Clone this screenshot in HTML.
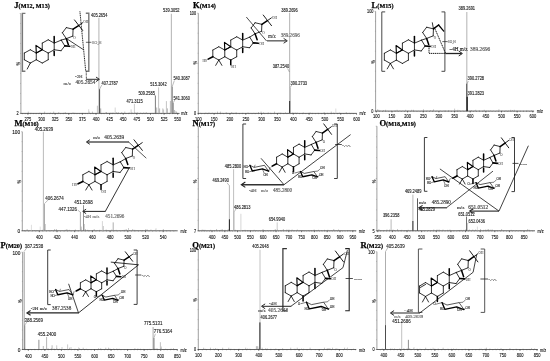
<!DOCTYPE html>
<html lang="en">
<head>
<meta charset="utf-8">
<title>Mass spectra J-R</title>
<style>
html,body{margin:0;padding:0;background:#fff;}
body{width:550px;height:361px;overflow:hidden;}
svg{display:block;}
text.s{font-family:"Liberation Sans", sans-serif;}
text.r{font-family:"Liberation Serif", serif;}
</style>
</head>
<body>
<svg width="550" height="361" viewBox="0 0 550 361">
<rect width="550" height="361" fill="#fff"/>
<g id="panelJ">
<text class="r" x="14.3" y="8" font-weight="bold" fill="#000"><tspan font-size="8.6" stroke="#000" stroke-width="0.25">J</tspan><tspan font-size="6.2" stroke="#000" stroke-width="0.2">(M12, M13)</tspan></text>
<line x1="20.9" y1="13.5" x2="20.9" y2="113.4" stroke="#777" stroke-width="0.7" />
<path d="M20.9 113.4h-1.2M20.9 103.41h-0.7M20.9 93.42h-0.7M20.9 83.43h-0.7M20.9 73.44h-0.7M20.9 63.45h-1.2M20.9 53.46h-0.7M20.9 43.47h-0.7M20.9 33.48h-0.7M20.9 23.49h-0.7M20.9 13.5h-1.2" stroke="#777" stroke-width="0.4" fill="none"/>
<line x1="20.4" y1="113.4" x2="179.6" y2="113.4" stroke="#222" stroke-width="0.7" />
<line x1="27.91" y1="113.4" x2="27.91" y2="114.8" stroke="#222" stroke-width="0.5" />
<text class="s" transform="translate(27.91,121.14) scale(0.75,1)" font-size="5.4" text-anchor="middle" fill="#111" stroke="#111" stroke-width="0.12">275</text>
<line x1="41.53" y1="113.4" x2="41.53" y2="114.8" stroke="#222" stroke-width="0.5" />
<text class="s" transform="translate(41.53,121.14) scale(0.75,1)" font-size="5.4" text-anchor="middle" fill="#111" stroke="#111" stroke-width="0.12">300</text>
<line x1="55.15" y1="113.4" x2="55.15" y2="114.8" stroke="#222" stroke-width="0.5" />
<text class="s" transform="translate(55.15,121.14) scale(0.75,1)" font-size="5.4" text-anchor="middle" fill="#111" stroke="#111" stroke-width="0.12">325</text>
<line x1="68.77" y1="113.4" x2="68.77" y2="114.8" stroke="#222" stroke-width="0.5" />
<text class="s" transform="translate(68.77,121.14) scale(0.75,1)" font-size="5.4" text-anchor="middle" fill="#111" stroke="#111" stroke-width="0.12">350</text>
<line x1="82.38" y1="113.4" x2="82.38" y2="114.8" stroke="#222" stroke-width="0.5" />
<text class="s" transform="translate(82.38,121.14) scale(0.75,1)" font-size="5.4" text-anchor="middle" fill="#111" stroke="#111" stroke-width="0.12">375</text>
<line x1="96" y1="113.4" x2="96" y2="114.8" stroke="#222" stroke-width="0.5" />
<text class="s" transform="translate(96,121.14) scale(0.75,1)" font-size="5.4" text-anchor="middle" fill="#111" stroke="#111" stroke-width="0.12">400</text>
<line x1="109.62" y1="113.4" x2="109.62" y2="114.8" stroke="#222" stroke-width="0.5" />
<text class="s" transform="translate(109.62,121.14) scale(0.75,1)" font-size="5.4" text-anchor="middle" fill="#111" stroke="#111" stroke-width="0.12">425</text>
<line x1="123.23" y1="113.4" x2="123.23" y2="114.8" stroke="#222" stroke-width="0.5" />
<text class="s" transform="translate(123.23,121.14) scale(0.75,1)" font-size="5.4" text-anchor="middle" fill="#111" stroke="#111" stroke-width="0.12">450</text>
<line x1="136.85" y1="113.4" x2="136.85" y2="114.8" stroke="#222" stroke-width="0.5" />
<text class="s" transform="translate(136.85,121.14) scale(0.75,1)" font-size="5.4" text-anchor="middle" fill="#111" stroke="#111" stroke-width="0.12">475</text>
<line x1="150.47" y1="113.4" x2="150.47" y2="114.8" stroke="#222" stroke-width="0.5" />
<text class="s" transform="translate(150.47,121.14) scale(0.75,1)" font-size="5.4" text-anchor="middle" fill="#111" stroke="#111" stroke-width="0.12">500</text>
<line x1="164.09" y1="113.4" x2="164.09" y2="114.8" stroke="#222" stroke-width="0.5" />
<text class="s" transform="translate(164.09,121.14) scale(0.75,1)" font-size="5.4" text-anchor="middle" fill="#111" stroke="#111" stroke-width="0.12">525</text>
<line x1="177.7" y1="113.4" x2="177.7" y2="114.8" stroke="#222" stroke-width="0.5" />
<text class="s" transform="translate(177.7,121.14) scale(0.75,1)" font-size="5.4" text-anchor="middle" fill="#111" stroke="#111" stroke-width="0.12">550</text>
<path d="M22.47 113.4v0.8M25.19 113.4v0.8M27.91 113.4v0.8M30.64 113.4v0.8M33.36 113.4v0.8M36.08 113.4v0.8M38.81 113.4v0.8M41.53 113.4v0.8M44.25 113.4v0.8M46.98 113.4v0.8M49.7 113.4v0.8M52.42 113.4v0.8M55.15 113.4v0.8M57.87 113.4v0.8M60.59 113.4v0.8M63.32 113.4v0.8M66.04 113.4v0.8M68.77 113.4v0.8M71.49 113.4v0.8M74.21 113.4v0.8M76.94 113.4v0.8M79.66 113.4v0.8M82.38 113.4v0.8M85.11 113.4v0.8M87.83 113.4v0.8M90.55 113.4v0.8M93.28 113.4v0.8M96 113.4v0.8M98.72 113.4v0.8M101.45 113.4v0.8M104.17 113.4v0.8M106.89 113.4v0.8M109.62 113.4v0.8M112.34 113.4v0.8M115.06 113.4v0.8M117.79 113.4v0.8M120.51 113.4v0.8M123.24 113.4v0.8M125.96 113.4v0.8M128.68 113.4v0.8M131.41 113.4v0.8M134.13 113.4v0.8M136.85 113.4v0.8M139.58 113.4v0.8M142.3 113.4v0.8M145.02 113.4v0.8M147.75 113.4v0.8M150.47 113.4v0.8M153.19 113.4v0.8M155.92 113.4v0.8M158.64 113.4v0.8M161.36 113.4v0.8M164.09 113.4v0.8M166.81 113.4v0.8M169.53 113.4v0.8M172.26 113.4v0.8M174.98 113.4v0.8M177.71 113.4v0.8" stroke="#333" stroke-width="0.35" fill="none"/>
<path d="M22.9 113.4v-0.3M26.03 113.4v-0.4M28.27 113.4v-1.8M31.05 113.4v-0.6M34.11 113.4v-0.3M36.55 113.4v-0.4M39.9 113.4v-0.8M43 113.4v-0.5M44.61 113.4v-1.8M48.02 113.4v-0.5M50.41 113.4v-0.8M53.67 113.4v-1.8M56.52 113.4v-0.4M58.72 113.4v-1.3M62.31 113.4v-0.4M63.71 113.4v-0.6M65.29 113.4v-1.3M67.94 113.4v-0.3M70.28 113.4v-0.4M73.01 113.4v-1M74.95 113.4v-0.6M77.9 113.4v-0.3M80.7 113.4v-0.3M82.85 113.4v-0.5M85.57 113.4v-0.4M89.16 113.4v-1.8M92.43 113.4v-1.8M95.46 113.4v-0.3M98.51 113.4v-1.3M99.81 113.4v-0.8M101.73 113.4v-0.4M103.27 113.4v-0.5M106.55 113.4v-1.3M109.06 113.4v-0.6M110.9 113.4v-0.8M113.03 113.4v-1M116.35 113.4v-1.3M118.28 113.4v-1.3M121.72 113.4v-1.3M124.77 113.4v-1.8M126.97 113.4v-0.4M129.16 113.4v-1M131.93 113.4v-1.3M134.9 113.4v-1.3M138.14 113.4v-0.5M140.66 113.4v-0.8M143.7 113.4v-1M146.25 113.4v-1.3M149.48 113.4v-0.4M151.98 113.4v-0.6M154.14 113.4v-0.6M157.03 113.4v-0.6M158.56 113.4v-0.4M161.12 113.4v-0.5M162.94 113.4v-0.3M165.17 113.4v-0.4M167.3 113.4v-0.5M169.18 113.4v-0.6M170.99 113.4v-0.8M173.32 113.4v-0.3M176.63 113.4v-1.3" stroke="#555" stroke-width="0.35" fill="none"/>
<text class="s" transform="translate(181.2,115.43) scale(0.8,1)" font-size="4.8" text-anchor="start" fill="#111" stroke="#111" stroke-width="0.12">m/z</text>
<text class="s" transform="translate(18.7,115.13) scale(0.8,1)" font-size="4.8" text-anchor="end" fill="#111" stroke="#111" stroke-width="0.12">2</text>
<text class="s" font-size="5" fill="#222" stroke="#222" stroke-width="0.1" text-anchor="middle" transform="translate(19.9,63.7) rotate(-90) scale(0.8,1)">%</text>
<line x1="98.9" y1="17.7" x2="98.9" y2="113.4" stroke="#bdbdbd" stroke-width="1.15" />
<line x1="99.6" y1="89.2" x2="99.6" y2="113.4" stroke="#222" stroke-width="0.8" />
<line x1="97.4" y1="105.7" x2="97.4" y2="113.4" stroke="#999" stroke-width="0.6" />
<line x1="100.7" y1="108.4" x2="100.7" y2="113.4" stroke="#777" stroke-width="0.6" />
<line x1="88.7" y1="109.2" x2="88.7" y2="113.4" stroke="#bbb" stroke-width="0.6" />
<line x1="105.9" y1="112" x2="105.9" y2="113.4" stroke="#999" stroke-width="0.5" />
<line x1="115.2" y1="107.5" x2="115.2" y2="113.4" stroke="#bbb" stroke-width="0.6" />
<line x1="131.1" y1="109.4" x2="131.1" y2="113.4" stroke="#aaa" stroke-width="0.6" />
<line x1="134.4" y1="103.9" x2="134.4" y2="113.4" stroke="#aaa" stroke-width="0.6" />
<line x1="137.2" y1="112" x2="137.2" y2="113.4" stroke="#999" stroke-width="0.5" />
<line x1="155.4" y1="95.6" x2="155.4" y2="113.4" stroke="#444" stroke-width="0.7" />
<line x1="156.7" y1="107.5" x2="156.7" y2="113.4" stroke="#888" stroke-width="0.6" />
<line x1="158.6" y1="87.4" x2="158.6" y2="113.4" stroke="#aaa" stroke-width="0.7" />
<line x1="159.6" y1="108.4" x2="159.6" y2="113.4" stroke="#888" stroke-width="0.6" />
<line x1="162.8" y1="108.4" x2="162.8" y2="113.4" stroke="#999" stroke-width="0.6" />
<line x1="163.6" y1="109.5" x2="163.6" y2="113.4" stroke="#999" stroke-width="0.5" />
<line x1="166.4" y1="101.1" x2="166.4" y2="113.4" stroke="#aaa" stroke-width="0.7" />
<line x1="167.4" y1="108.4" x2="167.4" y2="113.4" stroke="#888" stroke-width="0.6" />
<line x1="170.4" y1="101" x2="170.4" y2="113.4" stroke="#999" stroke-width="0.7" />
<line x1="171.4" y1="13.7" x2="171.4" y2="113.4" stroke="#bdbdbd" stroke-width="1.15" />
<line x1="172.3" y1="86.5" x2="172.3" y2="113.4" stroke="#555" stroke-width="0.7" />
<line x1="173.3" y1="103" x2="173.3" y2="113.4" stroke="#666" stroke-width="0.7" />
<line x1="174.6" y1="110" x2="174.6" y2="113.4" stroke="#888" stroke-width="0.6" />
<line x1="176" y1="111" x2="176" y2="113.4" stroke="#888" stroke-width="0.5" />
<text class="s" transform="translate(91,17.12) scale(0.88,1)" font-size="4.5" text-anchor="start" fill="#222" stroke="#222" stroke-width="0.12">405.2654</text>
<text class="s" transform="translate(163.1,12.22) scale(0.88,1)" font-size="4.5" text-anchor="start" fill="#222" stroke="#222" stroke-width="0.12">539.3052</text>
<text class="s" transform="translate(101.5,84.52) scale(0.88,1)" font-size="4.5" text-anchor="start" fill="#222" stroke="#222" stroke-width="0.12">407.2787</text>
<line x1="99.7" y1="89" x2="101.8" y2="85" stroke="#555" stroke-width="0.4" />
<text class="s" transform="translate(126.6,102.72) scale(0.88,1)" font-size="4.5" text-anchor="start" fill="#222" stroke="#222" stroke-width="0.12">471.3115</text>
<text class="s" transform="translate(138.4,95.12) scale(0.88,1)" font-size="4.5" text-anchor="start" fill="#222" stroke="#222" stroke-width="0.12">509.2585</text>
<line x1="153.2" y1="94.2" x2="155.4" y2="95.6" stroke="#555" stroke-width="0.4" />
<text class="s" transform="translate(150.3,86.32) scale(0.88,1)" font-size="4.5" text-anchor="start" fill="#222" stroke="#222" stroke-width="0.12">515.3042</text>
<text class="s" transform="translate(173.4,79.92) scale(0.88,1)" font-size="4.5" text-anchor="start" fill="#222" stroke="#222" stroke-width="0.12">540.3087</text>
<line x1="172.3" y1="86.3" x2="174.4" y2="80.5" stroke="#555" stroke-width="0.4" />
<text class="s" transform="translate(173.4,99.62) scale(0.88,1)" font-size="4.5" text-anchor="start" fill="#222" stroke="#222" stroke-width="0.12">541.3060</text>
<line x1="173.3" y1="102.8" x2="174.8" y2="100" stroke="#555" stroke-width="0.4" />
<polyline points="25.4,13.4 22.4,13.4 22.4,71.3 25.4,71.3" stroke="#777" stroke-width="1.4" fill="none" />
<polyline points="85.8,13.2 88.8,13.2 88.8,71.3 85.8,71.3" stroke="#777" stroke-width="1.4" fill="none" />
<line x1="85.9" y1="42.3" x2="91.4" y2="42.3" stroke="#222" stroke-width="0.7" />
<text class="r" x="91.8" y="43.89" font-size="4.2" text-anchor="start" fill="#888" stroke="#888" stroke-width="0.14">SO<tspan dy="1" font-size="2.8">3</tspan><tspan dy="-1">H</tspan></text>
<line x1="30.3" y1="49.75" x2="36.28" y2="53.07" stroke="#000" stroke-width="0.8" stroke-linecap="round"/>
<line x1="36.28" y1="53.07" x2="36.28" y2="59.73" stroke="#000" stroke-width="0.8" stroke-linecap="round"/>
<line x1="36.28" y1="59.73" x2="30.3" y2="63.05" stroke="#000" stroke-width="0.8" stroke-linecap="round"/>
<line x1="30.3" y1="63.05" x2="24.32" y2="59.73" stroke="#000" stroke-width="0.8" stroke-linecap="round"/>
<line x1="24.32" y1="59.73" x2="24.32" y2="53.07" stroke="#000" stroke-width="0.8" stroke-linecap="round"/>
<line x1="24.32" y1="53.07" x2="30.3" y2="49.75" stroke="#000" stroke-width="0.8" stroke-linecap="round"/>
<line x1="36.28" y1="53.07" x2="42.25" y2="49.75" stroke="#000" stroke-width="0.8" stroke-linecap="round"/>
<line x1="42.25" y1="49.75" x2="48.23" y2="53.07" stroke="#000" stroke-width="0.8" stroke-linecap="round"/>
<line x1="48.23" y1="53.07" x2="48.23" y2="59.73" stroke="#000" stroke-width="0.8" stroke-linecap="round"/>
<line x1="48.23" y1="59.73" x2="42.25" y2="63.05" stroke="#000" stroke-width="0.8" stroke-linecap="round"/>
<line x1="42.25" y1="63.05" x2="36.28" y2="59.73" stroke="#000" stroke-width="0.8" stroke-linecap="round"/>
<line x1="42.25" y1="49.75" x2="42.25" y2="43.1" stroke="#000" stroke-width="0.8" stroke-linecap="round"/>
<line x1="42.25" y1="43.1" x2="48.23" y2="39.77" stroke="#000" stroke-width="0.8" stroke-linecap="round"/>
<line x1="48.23" y1="39.77" x2="54.2" y2="43.1" stroke="#000" stroke-width="0.8" stroke-linecap="round"/>
<line x1="54.2" y1="43.1" x2="54.2" y2="49.75" stroke="#000" stroke-width="0.8" stroke-linecap="round"/>
<line x1="54.2" y1="49.75" x2="48.23" y2="53.07" stroke="#000" stroke-width="0.8" stroke-linecap="round"/>
<line x1="54.2" y1="43.1" x2="61.21" y2="40.11" stroke="#000" stroke-width="0.8" stroke-linecap="round"/>
<line x1="61.21" y1="40.11" x2="64.8" y2="45.89" stroke="#000" stroke-width="0.8" stroke-linecap="round"/>
<line x1="64.8" y1="45.89" x2="61.01" y2="50.75" stroke="#000" stroke-width="0.8" stroke-linecap="round"/>
<line x1="61.01" y1="50.75" x2="54.2" y2="49.75" stroke="#000" stroke-width="0.8" stroke-linecap="round"/>
<polygon points="36.28,53.07 35.96,45.36 42.25,49.75" fill="none" stroke="#000" stroke-width="1.14" stroke-linejoin="round"/>
<line x1="54.2" y1="42.3" x2="54.2" y2="36.45" stroke="#000" stroke-width="1.52" stroke-linecap="round"/>
<line x1="54.2" y1="51.21" x2="54.2" y2="55.6" stroke="#000" stroke-width="1.52" stroke-linecap="round"/>
<line x1="64.8" y1="45.89" x2="69.77" y2="46.29" stroke="#000" stroke-width="1.6720000000000002" stroke-linecap="round"/>
<text class="r" x="70.67" y="47.89" font-size="3.3875" text-anchor="start" fill="#222" >OH</text>
<line x1="30.3" y1="63.05" x2="27.2" y2="69.03" stroke="#000" stroke-width="0.8" stroke-linecap="round"/>
<line x1="61.21" y1="40.11" x2="66.32" y2="38.64" stroke="#000" stroke-width="0.8" stroke-linecap="round"/>
<line x1="66.32" y1="38.64" x2="62.39" y2="32.79" stroke="#000" stroke-width="0.8" stroke-linecap="round"/>
<line x1="62.39" y1="32.79" x2="66.32" y2="27.61" stroke="#000" stroke-width="0.8" stroke-linecap="round"/>
<line x1="66.32" y1="27.61" x2="73.08" y2="29.2" stroke="#000" stroke-width="0.8" stroke-linecap="round"/>
<line x1="73.08" y1="29.2" x2="72.8" y2="36.12" stroke="#000" stroke-width="0.8" stroke-linecap="round"/>
<line x1="72.8" y1="36.12" x2="66.32" y2="38.64" stroke="#000" stroke-width="0.8" stroke-linecap="round"/>
<line x1="66.32" y1="38.64" x2="68.39" y2="44.63" stroke="#000" stroke-width="1.52" stroke-linecap="round"/>
<text class="r" x="73.36" y="38.91" font-size="3.3875" text-anchor="start" fill="#222" >O</text>
<line x1="73.08" y1="29.2" x2="78.6" y2="25.54" stroke="#000" stroke-width="1.52" stroke-linecap="round"/>
<line x1="74.46" y1="19.89" x2="82.74" y2="30.53" stroke="#000" stroke-width="0.8800000000000001" stroke-linecap="round"/>
<line x1="78.6" y1="25.54" x2="82.6" y2="22.75" stroke="#000" stroke-width="0.8800000000000001" stroke-linecap="round"/>
<text class="r" x="83.29" y="23.42" font-size="3.3875" text-anchor="start" fill="#222" >OH</text>
<line x1="79.9" y1="11.3" x2="85.7" y2="71" stroke="#000" stroke-width="0.85" stroke-dasharray="1.2 0.6"/>
<line x1="86.2" y1="71.4" x2="86.4" y2="79.3" stroke="#111" stroke-width="0.8" stroke-dasharray="0.9 0.5"/>
<line x1="86.2" y1="79.3" x2="98.8" y2="79.3" stroke="#222" stroke-width="0.95" />
<polyline points="95.98,77.05 99.4,79.3 95.98,81.55" stroke="#222" stroke-width="0.935" fill="none" stroke-linejoin="miter"/>
<line x1="65.9" y1="38.2" x2="83.2" y2="49.5" stroke="#000" stroke-width="0.75" />
<text class="r" x="75" y="78.23" font-size="4.95" text-anchor="start" fill="#555" stroke="#555" stroke-width="0.14">-2H</text>
<text class="r" x="63.6" y="84.52" font-size="4.9" text-anchor="start" fill="#555" stroke="#555" stroke-width="0.14">m/z</text>
<text class="r" x="75.4" y="84.37" font-size="5.35" text-anchor="start" fill="#444" stroke="#444" stroke-width="0.14">405.2654</text>
</g>
<g id="panelK">
<text class="r" x="193" y="8" font-weight="bold" fill="#000"><tspan font-size="8.6" stroke="#000" stroke-width="0.25">K</tspan><tspan font-size="6.2" stroke="#000" stroke-width="0.2">(M14)</tspan></text>
<line x1="198.3" y1="13.2" x2="198.3" y2="113.4" stroke="#777" stroke-width="0.7" />
<path d="M198.3 113.4h-1.2M198.3 103.38h-0.7M198.3 93.36h-0.7M198.3 83.34h-0.7M198.3 73.32h-0.7M198.3 63.3h-1.2M198.3 53.28h-0.7M198.3 43.26h-0.7M198.3 33.24h-0.7M198.3 23.22h-0.7M198.3 13.2h-1.2" stroke="#777" stroke-width="0.4" fill="none"/>
<line x1="197.8" y1="113.4" x2="356.8" y2="113.4" stroke="#222" stroke-width="0.7" />
<line x1="198.3" y1="113.4" x2="198.3" y2="114.8" stroke="#222" stroke-width="0.5" />
<text class="s" transform="translate(198.3,121.14) scale(0.75,1)" font-size="5.4" text-anchor="middle" fill="#111" stroke="#111" stroke-width="0.12">100</text>
<line x1="214.12" y1="113.4" x2="214.12" y2="114.8" stroke="#222" stroke-width="0.5" />
<text class="s" transform="translate(214.12,121.14) scale(0.75,1)" font-size="5.4" text-anchor="middle" fill="#111" stroke="#111" stroke-width="0.12">150</text>
<line x1="229.95" y1="113.4" x2="229.95" y2="114.8" stroke="#222" stroke-width="0.5" />
<text class="s" transform="translate(229.95,121.14) scale(0.75,1)" font-size="5.4" text-anchor="middle" fill="#111" stroke="#111" stroke-width="0.12">200</text>
<line x1="245.78" y1="113.4" x2="245.78" y2="114.8" stroke="#222" stroke-width="0.5" />
<text class="s" transform="translate(245.78,121.14) scale(0.75,1)" font-size="5.4" text-anchor="middle" fill="#111" stroke="#111" stroke-width="0.12">250</text>
<line x1="261.6" y1="113.4" x2="261.6" y2="114.8" stroke="#222" stroke-width="0.5" />
<text class="s" transform="translate(261.6,121.14) scale(0.75,1)" font-size="5.4" text-anchor="middle" fill="#111" stroke="#111" stroke-width="0.12">300</text>
<line x1="277.43" y1="113.4" x2="277.43" y2="114.8" stroke="#222" stroke-width="0.5" />
<text class="s" transform="translate(277.43,121.14) scale(0.75,1)" font-size="5.4" text-anchor="middle" fill="#111" stroke="#111" stroke-width="0.12">350</text>
<line x1="293.25" y1="113.4" x2="293.25" y2="114.8" stroke="#222" stroke-width="0.5" />
<text class="s" transform="translate(293.25,121.14) scale(0.75,1)" font-size="5.4" text-anchor="middle" fill="#111" stroke="#111" stroke-width="0.12">400</text>
<line x1="309.08" y1="113.4" x2="309.08" y2="114.8" stroke="#222" stroke-width="0.5" />
<text class="s" transform="translate(309.08,121.14) scale(0.75,1)" font-size="5.4" text-anchor="middle" fill="#111" stroke="#111" stroke-width="0.12">450</text>
<line x1="324.9" y1="113.4" x2="324.9" y2="114.8" stroke="#222" stroke-width="0.5" />
<text class="s" transform="translate(324.9,121.14) scale(0.75,1)" font-size="5.4" text-anchor="middle" fill="#111" stroke="#111" stroke-width="0.12">500</text>
<line x1="340.73" y1="113.4" x2="340.73" y2="114.8" stroke="#222" stroke-width="0.5" />
<text class="s" transform="translate(340.73,121.14) scale(0.75,1)" font-size="5.4" text-anchor="middle" fill="#111" stroke="#111" stroke-width="0.12">550</text>
<line x1="356.55" y1="113.4" x2="356.55" y2="114.8" stroke="#222" stroke-width="0.5" />
<text class="s" transform="translate(356.55,121.14) scale(0.75,1)" font-size="5.4" text-anchor="middle" fill="#111" stroke="#111" stroke-width="0.12">600</text>
<path d="M201.47 113.4v0.8M204.63 113.4v0.8M207.79 113.4v0.8M210.96 113.4v0.8M214.12 113.4v0.8M217.29 113.4v0.8M220.45 113.4v0.8M223.62 113.4v0.8M226.78 113.4v0.8M229.95 113.4v0.8M233.11 113.4v0.8M236.28 113.4v0.8M239.44 113.4v0.8M242.61 113.4v0.8M245.77 113.4v0.8M248.94 113.4v0.8M252.1 113.4v0.8M255.27 113.4v0.8M258.43 113.4v0.8M261.6 113.4v0.8M264.76 113.4v0.8M267.93 113.4v0.8M271.09 113.4v0.8M274.26 113.4v0.8M277.43 113.4v0.8M280.59 113.4v0.8M283.76 113.4v0.8M286.92 113.4v0.8M290.09 113.4v0.8M293.25 113.4v0.8M296.42 113.4v0.8M299.58 113.4v0.8M302.75 113.4v0.8M305.91 113.4v0.8M309.08 113.4v0.8M312.24 113.4v0.8M315.41 113.4v0.8M318.57 113.4v0.8M321.74 113.4v0.8M324.9 113.4v0.8M328.07 113.4v0.8M331.23 113.4v0.8M334.4 113.4v0.8M337.56 113.4v0.8M340.73 113.4v0.8M343.89 113.4v0.8M347.06 113.4v0.8M350.22 113.4v0.8M353.39 113.4v0.8" stroke="#333" stroke-width="0.35" fill="none"/>
<path d="M200.3 113.4v-0.6M202.52 113.4v-0.3M205.82 113.4v-0.8M208.97 113.4v-1M212.34 113.4v-0.8M215.42 113.4v-0.6M217.51 113.4v-1.8M219.29 113.4v-0.6M220.57 113.4v-1.8M222.64 113.4v-0.6M226.21 113.4v-1.3M227.95 113.4v-0.5M229.64 113.4v-0.3M231.63 113.4v-1.3M233.06 113.4v-0.6M234.66 113.4v-0.5M236.12 113.4v-1.3M239.11 113.4v-0.3M241.44 113.4v-0.3M242.84 113.4v-0.6M245.81 113.4v-0.3M248.02 113.4v-1M250.83 113.4v-0.5M253.76 113.4v-0.6M255.25 113.4v-0.4M256.82 113.4v-0.5M258.52 113.4v-1.3M261.09 113.4v-1.8M263.52 113.4v-1M266.78 113.4v-0.4M268.3 113.4v-1M270.55 113.4v-0.6M272.71 113.4v-0.4M274.54 113.4v-1.8M277.16 113.4v-0.4M278.93 113.4v-0.8M280.82 113.4v-0.8M282.97 113.4v-0.4M285.49 113.4v-1M288.13 113.4v-0.5M291.26 113.4v-0.3M292.81 113.4v-1M295.25 113.4v-0.8M297.28 113.4v-0.8M299.6 113.4v-0.3M301.83 113.4v-0.3M303.27 113.4v-1M305.31 113.4v-0.3M308.36 113.4v-0.5M310.05 113.4v-1M312.63 113.4v-0.5M315.68 113.4v-0.3M318.14 113.4v-0.6M321.44 113.4v-0.4M324.17 113.4v-1.3M327.33 113.4v-0.6M329.83 113.4v-0.3M331.26 113.4v-1.8M333.68 113.4v-0.8M336.67 113.4v-0.5M338.17 113.4v-0.5M339.55 113.4v-0.8M341.05 113.4v-0.4M342.91 113.4v-0.4M346.27 113.4v-1.3M349.28 113.4v-0.6M351.75 113.4v-0.5M354.71 113.4v-0.3" stroke="#555" stroke-width="0.35" fill="none"/>
<text class="s" transform="translate(359.4,115.43) scale(0.8,1)" font-size="4.8" text-anchor="start" fill="#111" stroke="#111" stroke-width="0.12">m/z</text>
<text class="s" transform="translate(196.1,15.23) scale(0.8,1)" font-size="4.8" text-anchor="end" fill="#111" stroke="#111" stroke-width="0.12">100</text>
<text class="s" transform="translate(196.1,115.13) scale(0.8,1)" font-size="4.8" text-anchor="end" fill="#111" stroke="#111" stroke-width="0.12">0</text>
<text class="s" font-size="5" fill="#222" stroke="#222" stroke-width="0.1" text-anchor="middle" transform="translate(197.3,62.7) rotate(-90) scale(0.8,1)">%</text>
<line x1="289.6" y1="12.8" x2="289.6" y2="113.4" stroke="#bdbdbd" stroke-width="1.15" />
<line x1="289.7" y1="101" x2="289.7" y2="113.4" stroke="#111" stroke-width="0.9" />
<line x1="290.4" y1="87.4" x2="290.4" y2="113.4" stroke="#888" stroke-width="0.5" />
<line x1="335.8" y1="108.5" x2="335.8" y2="113.4" stroke="#bbb" stroke-width="0.5" />
<text class="s" transform="translate(281.3,12.22) scale(0.88,1)" font-size="4.5" text-anchor="start" fill="#222" stroke="#222" stroke-width="0.12">389.2696</text>
<text class="s" transform="translate(272.7,68.02) scale(0.88,1)" font-size="4.5" text-anchor="start" fill="#222" stroke="#222" stroke-width="0.12">387.2540</text>
<line x1="287.6" y1="68.5" x2="289.4" y2="72" stroke="#555" stroke-width="0.4" />
<text class="s" transform="translate(290.6,84.52) scale(0.88,1)" font-size="4.5" text-anchor="start" fill="#222" stroke="#222" stroke-width="0.12">390.2733</text>
<line x1="290.3" y1="87.2" x2="292" y2="84.8" stroke="#555" stroke-width="0.4" />
<line x1="218.8" y1="46.75" x2="224.78" y2="50.07" stroke="#000" stroke-width="0.8" stroke-linecap="round"/>
<line x1="224.78" y1="50.07" x2="224.78" y2="56.73" stroke="#000" stroke-width="0.8" stroke-linecap="round"/>
<line x1="224.78" y1="56.73" x2="218.8" y2="60.05" stroke="#000" stroke-width="0.8" stroke-linecap="round"/>
<line x1="218.8" y1="60.05" x2="212.82" y2="56.73" stroke="#000" stroke-width="0.8" stroke-linecap="round"/>
<line x1="212.82" y1="56.73" x2="212.82" y2="50.07" stroke="#000" stroke-width="0.8" stroke-linecap="round"/>
<line x1="212.82" y1="50.07" x2="218.8" y2="46.75" stroke="#000" stroke-width="0.8" stroke-linecap="round"/>
<line x1="224.78" y1="50.07" x2="230.75" y2="46.75" stroke="#000" stroke-width="0.8" stroke-linecap="round"/>
<line x1="230.75" y1="46.75" x2="236.73" y2="50.07" stroke="#000" stroke-width="0.8" stroke-linecap="round"/>
<line x1="236.73" y1="50.07" x2="236.73" y2="56.73" stroke="#000" stroke-width="0.8" stroke-linecap="round"/>
<line x1="236.73" y1="56.73" x2="230.75" y2="60.05" stroke="#000" stroke-width="0.8" stroke-linecap="round"/>
<line x1="230.75" y1="60.05" x2="224.78" y2="56.73" stroke="#000" stroke-width="0.8" stroke-linecap="round"/>
<line x1="230.75" y1="46.75" x2="230.75" y2="40.1" stroke="#000" stroke-width="0.8" stroke-linecap="round"/>
<line x1="230.75" y1="40.1" x2="236.73" y2="36.77" stroke="#000" stroke-width="0.8" stroke-linecap="round"/>
<line x1="236.73" y1="36.77" x2="242.7" y2="40.1" stroke="#000" stroke-width="0.8" stroke-linecap="round"/>
<line x1="242.7" y1="40.1" x2="242.7" y2="46.75" stroke="#000" stroke-width="0.8" stroke-linecap="round"/>
<line x1="242.7" y1="46.75" x2="236.73" y2="50.07" stroke="#000" stroke-width="0.8" stroke-linecap="round"/>
<line x1="242.7" y1="40.1" x2="249.71" y2="37.11" stroke="#000" stroke-width="0.8" stroke-linecap="round"/>
<line x1="249.71" y1="37.11" x2="253.3" y2="42.89" stroke="#000" stroke-width="0.8" stroke-linecap="round"/>
<line x1="253.3" y1="42.89" x2="249.51" y2="47.75" stroke="#000" stroke-width="0.8" stroke-linecap="round"/>
<line x1="249.51" y1="47.75" x2="242.7" y2="46.75" stroke="#000" stroke-width="0.8" stroke-linecap="round"/>
<polygon points="224.78,50.07 224.46,42.36 230.75,46.75" fill="none" stroke="#000" stroke-width="1.14" stroke-linejoin="round"/>
<line x1="242.7" y1="39.3" x2="242.7" y2="33.45" stroke="#000" stroke-width="1.52" stroke-linecap="round"/>
<line x1="242.7" y1="48.21" x2="242.7" y2="52.6" stroke="#000" stroke-width="1.52" stroke-linecap="round"/>
<line x1="253.3" y1="42.89" x2="258.27" y2="43.29" stroke="#000" stroke-width="1.6720000000000002" stroke-linecap="round"/>
<text class="r" x="259.17" y="44.89" font-size="3.3875" text-anchor="start" fill="#222" >OH</text>
<line x1="218.8" y1="60.05" x2="215.7" y2="65.37" stroke="#000" stroke-width="0.8" stroke-linecap="round"/>
<line x1="218.8" y1="60.05" x2="221.91" y2="65.37" stroke="#000" stroke-width="0.8" stroke-linecap="round"/>
<line x1="212.82" y1="56.73" x2="208.13" y2="59.12" stroke="#000" stroke-width="1.6720000000000002" stroke-linecap="round"/>
<text class="r" x="207.3" y="61.71" font-size="3.3875" text-anchor="end" fill="#222" >HO</text>
<line x1="230.75" y1="60.05" x2="230.75" y2="64.84" stroke="#000" stroke-width="1.52" stroke-linecap="round"/>
<text class="r" x="230.75" y="68.36" font-size="3.3875" text-anchor="start" fill="#222" >OH</text>
<line x1="249.71" y1="37.11" x2="255.09" y2="33.78" stroke="#000" stroke-width="0.8" stroke-linecap="round"/>
<line x1="255.09" y1="33.78" x2="251.16" y2="27.93" stroke="#000" stroke-width="0.8" stroke-linecap="round"/>
<line x1="251.16" y1="27.93" x2="255.09" y2="22.74" stroke="#000" stroke-width="0.8" stroke-linecap="round"/>
<line x1="255.09" y1="22.74" x2="261.86" y2="24.34" stroke="#000" stroke-width="0.8" stroke-linecap="round"/>
<line x1="261.86" y1="24.34" x2="261.58" y2="31.26" stroke="#000" stroke-width="0.8" stroke-linecap="round"/>
<line x1="261.58" y1="31.26" x2="255.09" y2="33.78" stroke="#000" stroke-width="0.8" stroke-linecap="round"/>
<line x1="255.09" y1="33.78" x2="257.16" y2="39.77" stroke="#000" stroke-width="1.52" stroke-linecap="round"/>
<text class="r" x="262.13" y="34.05" font-size="3.3875" text-anchor="start" fill="#222" >O</text>
<line x1="261.86" y1="24.34" x2="267.38" y2="20.68" stroke="#000" stroke-width="1.52" stroke-linecap="round"/>
<line x1="263.24" y1="15.03" x2="271.52" y2="25.67" stroke="#000" stroke-width="0.8800000000000001" stroke-linecap="round"/>
<line x1="267.38" y1="20.68" x2="271.38" y2="17.89" stroke="#000" stroke-width="0.8800000000000001" stroke-linecap="round"/>
<text class="r" x="272.07" y="18.55" font-size="3.3875" text-anchor="start" fill="#222" >OH</text>
<line x1="246.3" y1="17" x2="266.6" y2="41" stroke="#111" stroke-width="0.75" />
<line x1="267" y1="40.8" x2="286.6" y2="40.8" stroke="#6a6a6a" stroke-width="1.5" />
<polyline points="283.64,38.38 287.3,40.8 283.64,43.22" stroke="#333" stroke-width="0.9900000000000001" fill="none" stroke-linejoin="miter"/>
<text class="r" x="268" y="37.68" font-size="5.1" text-anchor="start" fill="#3a3a3a" stroke="#3a3a3a" stroke-width="0.14">m/z</text>
<text class="r" x="280.7" y="37.48" font-size="5.1" text-anchor="start" fill="#666" stroke="#666" stroke-width="0.14">389.2696</text>
</g>
<g id="panelL">
<text class="r" x="371.6" y="8" font-weight="bold" fill="#000"><tspan font-size="8.6" stroke="#000" stroke-width="0.25">L</tspan><tspan font-size="6.2" stroke="#000" stroke-width="0.2">(M15)</tspan></text>
<line x1="375.6" y1="11.3" x2="375.6" y2="111.1" stroke="#777" stroke-width="0.7" />
<path d="M375.6 111.1h-1.2M375.6 101.12h-0.7M375.6 91.14h-0.7M375.6 81.16h-0.7M375.6 71.18h-0.7M375.6 61.2h-1.2M375.6 51.22h-0.7M375.6 41.24h-0.7M375.6 31.26h-0.7M375.6 21.28h-0.7M375.6 11.3h-1.2" stroke="#777" stroke-width="0.4" fill="none"/>
<line x1="375.1" y1="111.1" x2="534.1" y2="111.1" stroke="#222" stroke-width="0.7" />
<line x1="376.3" y1="111.1" x2="376.3" y2="112.5" stroke="#222" stroke-width="0.5" />
<text class="s" transform="translate(376.3,118.24) scale(0.75,1)" font-size="5.4" text-anchor="middle" fill="#111" stroke="#111" stroke-width="0.12">100</text>
<line x1="391.95" y1="111.1" x2="391.95" y2="112.5" stroke="#222" stroke-width="0.5" />
<text class="s" transform="translate(391.95,118.24) scale(0.75,1)" font-size="5.4" text-anchor="middle" fill="#111" stroke="#111" stroke-width="0.12">150</text>
<line x1="407.6" y1="111.1" x2="407.6" y2="112.5" stroke="#222" stroke-width="0.5" />
<text class="s" transform="translate(407.6,118.24) scale(0.75,1)" font-size="5.4" text-anchor="middle" fill="#111" stroke="#111" stroke-width="0.12">200</text>
<line x1="423.25" y1="111.1" x2="423.25" y2="112.5" stroke="#222" stroke-width="0.5" />
<text class="s" transform="translate(423.25,118.24) scale(0.75,1)" font-size="5.4" text-anchor="middle" fill="#111" stroke="#111" stroke-width="0.12">250</text>
<line x1="438.9" y1="111.1" x2="438.9" y2="112.5" stroke="#222" stroke-width="0.5" />
<text class="s" transform="translate(438.9,118.24) scale(0.75,1)" font-size="5.4" text-anchor="middle" fill="#111" stroke="#111" stroke-width="0.12">300</text>
<line x1="454.55" y1="111.1" x2="454.55" y2="112.5" stroke="#222" stroke-width="0.5" />
<text class="s" transform="translate(454.55,118.24) scale(0.75,1)" font-size="5.4" text-anchor="middle" fill="#111" stroke="#111" stroke-width="0.12">350</text>
<line x1="470.2" y1="111.1" x2="470.2" y2="112.5" stroke="#222" stroke-width="0.5" />
<text class="s" transform="translate(470.2,118.24) scale(0.75,1)" font-size="5.4" text-anchor="middle" fill="#111" stroke="#111" stroke-width="0.12">400</text>
<line x1="485.85" y1="111.1" x2="485.85" y2="112.5" stroke="#222" stroke-width="0.5" />
<text class="s" transform="translate(485.85,118.24) scale(0.75,1)" font-size="5.4" text-anchor="middle" fill="#111" stroke="#111" stroke-width="0.12">450</text>
<line x1="501.5" y1="111.1" x2="501.5" y2="112.5" stroke="#222" stroke-width="0.5" />
<text class="s" transform="translate(501.5,118.24) scale(0.75,1)" font-size="5.4" text-anchor="middle" fill="#111" stroke="#111" stroke-width="0.12">500</text>
<line x1="517.15" y1="111.1" x2="517.15" y2="112.5" stroke="#222" stroke-width="0.5" />
<text class="s" transform="translate(517.15,118.24) scale(0.75,1)" font-size="5.4" text-anchor="middle" fill="#111" stroke="#111" stroke-width="0.12">550</text>
<line x1="532.8" y1="111.1" x2="532.8" y2="112.5" stroke="#222" stroke-width="0.5" />
<text class="s" transform="translate(532.8,118.24) scale(0.75,1)" font-size="5.4" text-anchor="middle" fill="#111" stroke="#111" stroke-width="0.12">600</text>
<path d="M376.3 111.1v0.8M379.43 111.1v0.8M382.56 111.1v0.8M385.69 111.1v0.8M388.82 111.1v0.8M391.95 111.1v0.8M395.08 111.1v0.8M398.21 111.1v0.8M401.34 111.1v0.8M404.47 111.1v0.8M407.6 111.1v0.8M410.73 111.1v0.8M413.86 111.1v0.8M416.99 111.1v0.8M420.12 111.1v0.8M423.25 111.1v0.8M426.38 111.1v0.8M429.51 111.1v0.8M432.64 111.1v0.8M435.77 111.1v0.8M438.9 111.1v0.8M442.03 111.1v0.8M445.16 111.1v0.8M448.29 111.1v0.8M451.42 111.1v0.8M454.55 111.1v0.8M457.68 111.1v0.8M460.81 111.1v0.8M463.94 111.1v0.8M467.07 111.1v0.8M470.2 111.1v0.8M473.33 111.1v0.8M476.46 111.1v0.8M479.59 111.1v0.8M482.72 111.1v0.8M485.85 111.1v0.8M488.98 111.1v0.8M492.11 111.1v0.8M495.24 111.1v0.8M498.37 111.1v0.8M501.5 111.1v0.8M504.63 111.1v0.8M507.76 111.1v0.8M510.89 111.1v0.8M514.02 111.1v0.8M517.15 111.1v0.8M520.28 111.1v0.8M523.41 111.1v0.8M526.54 111.1v0.8M529.67 111.1v0.8M532.8 111.1v0.8" stroke="#333" stroke-width="0.35" fill="none"/>
<path d="M377.6 111.1v-1.8M378.89 111.1v-1.3M380.43 111.1v-0.4M383.39 111.1v-1M385.62 111.1v-1.3M387.91 111.1v-0.3M391.49 111.1v-0.4M395.02 111.1v-0.8M397.09 111.1v-1.3M399.8 111.1v-0.6M402.84 111.1v-0.5M405.66 111.1v-1.3M408.08 111.1v-0.6M411.66 111.1v-1.3M413.52 111.1v-1.3M415.99 111.1v-0.3M418.37 111.1v-0.3M421.69 111.1v-0.3M423.48 111.1v-1.8M427.07 111.1v-0.6M430.37 111.1v-1M432.25 111.1v-0.5M433.54 111.1v-1.8M436.97 111.1v-0.6M440.21 111.1v-0.6M443.76 111.1v-0.4M445.24 111.1v-0.8M448.68 111.1v-1M451.4 111.1v-0.3M454.48 111.1v-0.6M456.04 111.1v-0.6M457.86 111.1v-1.3M459.79 111.1v-0.8M462.93 111.1v-0.6M465.8 111.1v-0.6M467.31 111.1v-1.8M470.05 111.1v-0.6M471.41 111.1v-1M473 111.1v-0.3M474.36 111.1v-0.5M475.72 111.1v-1.3M479.32 111.1v-1M482.86 111.1v-0.5M484.29 111.1v-1.3M486.43 111.1v-0.4M488.3 111.1v-0.5M490.58 111.1v-0.6M493.46 111.1v-0.4M496.87 111.1v-0.6M498.91 111.1v-1.8M501.92 111.1v-0.8M505.26 111.1v-0.5M506.54 111.1v-0.4M508.58 111.1v-0.5M510.65 111.1v-1.3M512.5 111.1v-1M514.35 111.1v-1.3M517.06 111.1v-0.5M520.42 111.1v-0.5M523.47 111.1v-0.5M526.77 111.1v-0.8M528.39 111.1v-0.3M531.63 111.1v-0.8" stroke="#555" stroke-width="0.35" fill="none"/>
<text class="s" transform="translate(536.8,113.13) scale(0.8,1)" font-size="4.8" text-anchor="start" fill="#111" stroke="#111" stroke-width="0.12">m/z</text>
<text class="s" transform="translate(373.4,13.33) scale(0.8,1)" font-size="4.8" text-anchor="end" fill="#111" stroke="#111" stroke-width="0.12">100</text>
<text class="s" transform="translate(373.4,112.83) scale(0.8,1)" font-size="4.8" text-anchor="end" fill="#111" stroke="#111" stroke-width="0.12">0</text>
<text class="s" font-size="5" fill="#222" stroke="#222" stroke-width="0.1" text-anchor="middle" transform="translate(374.6,62) rotate(-90) scale(0.8,1)">%</text>
<line x1="466.8" y1="11.9" x2="466.8" y2="111.1" stroke="#bdbdbd" stroke-width="1.15" />
<line x1="466.8" y1="83.8" x2="466.8" y2="111.1" stroke="#222" stroke-width="0.8" />
<line x1="467.2" y1="97" x2="467.2" y2="111.1" stroke="#111" stroke-width="1.1" />
<line x1="454.6" y1="108.6" x2="454.6" y2="111.1" stroke="#999" stroke-width="0.5" />
<text class="s" transform="translate(458.6,10.22) scale(0.88,1)" font-size="4.5" text-anchor="start" fill="#222" stroke="#222" stroke-width="0.12">389.2691</text>
<text class="s" transform="translate(467.6,80.42) scale(0.88,1)" font-size="4.5" text-anchor="start" fill="#222" stroke="#222" stroke-width="0.12">390.2728</text>
<text class="s" transform="translate(467.6,94.52) scale(0.88,1)" font-size="4.5" text-anchor="start" fill="#222" stroke="#222" stroke-width="0.12">391.2823</text>
<line x1="466.9" y1="84" x2="468.4" y2="81" stroke="#555" stroke-width="0.4" />
<line x1="467.2" y1="97" x2="468.4" y2="95" stroke="#555" stroke-width="0.4" />
<polyline points="385.2,11.9 381.8,11.9 381.8,71.3 385.2,71.3" stroke="#333" stroke-width="0.9" fill="none" />
<polyline points="441.5,11.9 444.9,11.9 444.9,71.3 441.5,71.3" stroke="#333" stroke-width="0.9" fill="none" />
<line x1="442.3" y1="41.6" x2="447.7" y2="41.6" stroke="#222" stroke-width="0.7" />
<text class="r" x="447.8" y="42.92" font-size="3.4" text-anchor="start" fill="#777" stroke="#777" stroke-width="0.14">SO<tspan dy="0.9" font-size="2.3">3</tspan><tspan dy="-0.9">H</tspan></text>
<line x1="390.35" y1="49.94" x2="396.37" y2="53.32" stroke="#000" stroke-width="0.8" stroke-linecap="round"/>
<line x1="396.37" y1="53.32" x2="396.37" y2="60.08" stroke="#000" stroke-width="0.8" stroke-linecap="round"/>
<line x1="396.37" y1="60.08" x2="390.35" y2="63.46" stroke="#000" stroke-width="0.8" stroke-linecap="round"/>
<line x1="390.35" y1="63.46" x2="384.33" y2="60.08" stroke="#000" stroke-width="0.8" stroke-linecap="round"/>
<line x1="384.33" y1="60.08" x2="384.33" y2="53.32" stroke="#000" stroke-width="0.8" stroke-linecap="round"/>
<line x1="384.33" y1="53.32" x2="390.35" y2="49.94" stroke="#000" stroke-width="0.8" stroke-linecap="round"/>
<line x1="396.37" y1="53.32" x2="402.39" y2="49.94" stroke="#000" stroke-width="0.8" stroke-linecap="round"/>
<line x1="402.39" y1="49.94" x2="408.41" y2="53.32" stroke="#000" stroke-width="0.8" stroke-linecap="round"/>
<line x1="408.41" y1="53.32" x2="408.41" y2="60.08" stroke="#000" stroke-width="0.8" stroke-linecap="round"/>
<line x1="408.41" y1="60.08" x2="402.39" y2="63.46" stroke="#000" stroke-width="0.8" stroke-linecap="round"/>
<line x1="402.39" y1="63.46" x2="396.37" y2="60.08" stroke="#000" stroke-width="0.8" stroke-linecap="round"/>
<line x1="402.39" y1="49.94" x2="402.39" y2="43.18" stroke="#000" stroke-width="0.8" stroke-linecap="round"/>
<line x1="402.39" y1="43.18" x2="408.41" y2="39.8" stroke="#000" stroke-width="0.8" stroke-linecap="round"/>
<line x1="408.41" y1="39.8" x2="414.43" y2="43.18" stroke="#000" stroke-width="0.8" stroke-linecap="round"/>
<line x1="414.43" y1="43.18" x2="414.43" y2="49.94" stroke="#000" stroke-width="0.8" stroke-linecap="round"/>
<line x1="414.43" y1="49.94" x2="408.41" y2="53.32" stroke="#000" stroke-width="0.8" stroke-linecap="round"/>
<line x1="414.43" y1="43.18" x2="421.49" y2="40.14" stroke="#000" stroke-width="0.8" stroke-linecap="round"/>
<line x1="421.49" y1="40.14" x2="425.1" y2="46.02" stroke="#000" stroke-width="0.8" stroke-linecap="round"/>
<line x1="425.1" y1="46.02" x2="421.28" y2="50.95" stroke="#000" stroke-width="0.8" stroke-linecap="round"/>
<line x1="421.28" y1="50.95" x2="414.43" y2="49.94" stroke="#000" stroke-width="0.8" stroke-linecap="round"/>
<polygon points="396.37,53.32 396.05,45.48 402.39,49.94" fill="none" stroke="#000" stroke-width="1.14" stroke-linejoin="round"/>
<line x1="414.43" y1="42.37" x2="414.43" y2="36.42" stroke="#000" stroke-width="1.52" stroke-linecap="round"/>
<line x1="414.43" y1="51.43" x2="414.43" y2="55.89" stroke="#000" stroke-width="1.52" stroke-linecap="round"/>
<line x1="425.1" y1="46.02" x2="430.1" y2="46.42" stroke="#000" stroke-width="1.6720000000000002" stroke-linecap="round"/>
<text class="r" x="431.01" y="48.05" font-size="3.4275" text-anchor="start" fill="#222" >OH</text>
<line x1="390.35" y1="63.46" x2="387.22" y2="68.87" stroke="#000" stroke-width="0.8" stroke-linecap="round"/>
<line x1="390.35" y1="63.46" x2="393.48" y2="68.87" stroke="#000" stroke-width="0.8" stroke-linecap="round"/>
<line x1="421.49" y1="40.14" x2="426.63" y2="38.45" stroke="#000" stroke-width="0.8" stroke-linecap="round"/>
<line x1="426.63" y1="38.45" x2="422.67" y2="32.5" stroke="#000" stroke-width="0.8" stroke-linecap="round"/>
<line x1="422.67" y1="32.5" x2="426.63" y2="27.23" stroke="#000" stroke-width="0.8" stroke-linecap="round"/>
<line x1="426.63" y1="27.23" x2="433.44" y2="28.85" stroke="#000" stroke-width="0.8" stroke-linecap="round"/>
<line x1="433.44" y1="28.85" x2="433.16" y2="35.88" stroke="#000" stroke-width="0.8" stroke-linecap="round"/>
<line x1="433.16" y1="35.88" x2="426.63" y2="38.45" stroke="#000" stroke-width="0.8" stroke-linecap="round"/>
<line x1="426.63" y1="38.45" x2="428.71" y2="44.53" stroke="#000" stroke-width="1.52" stroke-linecap="round"/>
<text class="r" x="433.72" y="38.72" font-size="3.4275" text-anchor="start" fill="#222" >O</text>
<line x1="433.44" y1="28.85" x2="432.33" y2="22.76" stroke="#000" stroke-width="0.8" stroke-linecap="round"/>
<line x1="433.44" y1="28.85" x2="438.58" y2="25" stroke="#000" stroke-width="1.52" stroke-linecap="round"/>
<line x1="438.58" y1="25" x2="443.73" y2="31.08" stroke="#000" stroke-width="1.2160000000000002" stroke-linecap="round"/>
<line x1="434.4" y1="27.5" x2="445.4" y2="53" stroke="#000" stroke-width="0.9" stroke-dasharray="1.3 0.6"/>
<line x1="429" y1="47.7" x2="429" y2="53.4" stroke="#000" stroke-width="0.9" stroke-dasharray="1.3 0.6"/>
<line x1="429" y1="53.4" x2="445.4" y2="53.4" stroke="#000" stroke-width="0.9" stroke-dasharray="1.3 0.6"/>
<line x1="445.4" y1="53.5" x2="461.6" y2="53.5" stroke="#222" stroke-width="1.3" />
<polyline points="458.74,51.08 462.4,53.5 458.74,55.92" stroke="#222" stroke-width="0.9900000000000001" fill="none" stroke-linejoin="miter"/>
<text class="r" x="449.4" y="51.18" font-size="5.1" text-anchor="start" fill="#222" stroke="#222" stroke-width="0.14">−4H m/z</text>
<text class="r" x="470.1" y="50.78" font-size="5.4" text-anchor="start" fill="#555" stroke="#555" stroke-width="0.14">389.2696</text>
</g>
<g id="panelM">
<text class="r" x="14.4" y="125.6" font-weight="bold" fill="#000"><tspan font-size="8.6" stroke="#000" stroke-width="0.25">M</tspan><tspan font-size="6.2" stroke="#000" stroke-width="0.2">(M16)</tspan></text>
<line x1="22.3" y1="131.7" x2="22.3" y2="230.8" stroke="#777" stroke-width="0.7" />
<path d="M22.3 230.8h-1.2M22.3 220.89h-0.7M22.3 210.98h-0.7M22.3 201.07h-0.7M22.3 191.16h-0.7M22.3 181.25h-1.2M22.3 171.34h-0.7M22.3 161.43h-0.7M22.3 151.52h-0.7M22.3 141.61h-0.7M22.3 131.7h-1.2" stroke="#777" stroke-width="0.4" fill="none"/>
<line x1="21.8" y1="230.8" x2="177.7" y2="230.8" stroke="#222" stroke-width="0.7" />
<line x1="39.3" y1="230.8" x2="39.3" y2="232.2" stroke="#222" stroke-width="0.5" />
<text class="s" transform="translate(39.3,239.44) scale(0.75,1)" font-size="5.4" text-anchor="middle" fill="#111" stroke="#111" stroke-width="0.12">400</text>
<line x1="57" y1="230.8" x2="57" y2="232.2" stroke="#222" stroke-width="0.5" />
<text class="s" transform="translate(57,239.44) scale(0.75,1)" font-size="5.4" text-anchor="middle" fill="#111" stroke="#111" stroke-width="0.12">420</text>
<line x1="74.7" y1="230.8" x2="74.7" y2="232.2" stroke="#222" stroke-width="0.5" />
<text class="s" transform="translate(74.7,239.44) scale(0.75,1)" font-size="5.4" text-anchor="middle" fill="#111" stroke="#111" stroke-width="0.12">440</text>
<line x1="92.4" y1="230.8" x2="92.4" y2="232.2" stroke="#222" stroke-width="0.5" />
<text class="s" transform="translate(92.4,239.44) scale(0.75,1)" font-size="5.4" text-anchor="middle" fill="#111" stroke="#111" stroke-width="0.12">460</text>
<line x1="110.1" y1="230.8" x2="110.1" y2="232.2" stroke="#222" stroke-width="0.5" />
<text class="s" transform="translate(110.1,239.44) scale(0.75,1)" font-size="5.4" text-anchor="middle" fill="#111" stroke="#111" stroke-width="0.12">480</text>
<line x1="127.8" y1="230.8" x2="127.8" y2="232.2" stroke="#222" stroke-width="0.5" />
<text class="s" transform="translate(127.8,239.44) scale(0.75,1)" font-size="5.4" text-anchor="middle" fill="#111" stroke="#111" stroke-width="0.12">500</text>
<line x1="145.5" y1="230.8" x2="145.5" y2="232.2" stroke="#222" stroke-width="0.5" />
<text class="s" transform="translate(145.5,239.44) scale(0.75,1)" font-size="5.4" text-anchor="middle" fill="#111" stroke="#111" stroke-width="0.12">520</text>
<line x1="163.2" y1="230.8" x2="163.2" y2="232.2" stroke="#222" stroke-width="0.5" />
<text class="s" transform="translate(163.2,239.44) scale(0.75,1)" font-size="5.4" text-anchor="middle" fill="#111" stroke="#111" stroke-width="0.12">540</text>
<path d="M25.14 230.8v0.8M28.68 230.8v0.8M32.22 230.8v0.8M35.76 230.8v0.8M39.3 230.8v0.8M42.84 230.8v0.8M46.38 230.8v0.8M49.92 230.8v0.8M53.46 230.8v0.8M57 230.8v0.8M60.54 230.8v0.8M64.08 230.8v0.8M67.62 230.8v0.8M71.16 230.8v0.8M74.7 230.8v0.8M78.24 230.8v0.8M81.78 230.8v0.8M85.32 230.8v0.8M88.86 230.8v0.8M92.4 230.8v0.8M95.94 230.8v0.8M99.48 230.8v0.8M103.02 230.8v0.8M106.56 230.8v0.8M110.1 230.8v0.8M113.64 230.8v0.8M117.18 230.8v0.8M120.72 230.8v0.8M124.26 230.8v0.8M127.8 230.8v0.8M131.34 230.8v0.8M134.88 230.8v0.8M138.42 230.8v0.8M141.96 230.8v0.8M145.5 230.8v0.8M149.04 230.8v0.8M152.58 230.8v0.8M156.12 230.8v0.8M159.66 230.8v0.8M163.2 230.8v0.8M166.74 230.8v0.8M170.28 230.8v0.8M173.82 230.8v0.8" stroke="#333" stroke-width="0.35" fill="none"/>
<path d="M24.3 230.8v-0.8M27.15 230.8v-1.8M29.35 230.8v-0.3M32.46 230.8v-0.6M34.27 230.8v-0.8M37.12 230.8v-0.6M40.25 230.8v-0.8M42.59 230.8v-1M44.16 230.8v-1.3M45.79 230.8v-0.3M48.76 230.8v-0.5M51.55 230.8v-0.5M54.62 230.8v-1.8M56.43 230.8v-1.8M58.87 230.8v-0.4M62.08 230.8v-0.5M65.25 230.8v-1M66.83 230.8v-1.8M69.32 230.8v-1M72.91 230.8v-0.3M75.42 230.8v-1.3M78.51 230.8v-0.3M81.04 230.8v-1.3M83.5 230.8v-0.4M85.41 230.8v-1.8M87.61 230.8v-1M89.17 230.8v-0.4M92.6 230.8v-0.8M94.2 230.8v-1.8M97.16 230.8v-0.5M99.75 230.8v-1M103.17 230.8v-0.3M106.15 230.8v-1.3M108.15 230.8v-0.8M111.72 230.8v-1.3M114.14 230.8v-0.4M116.13 230.8v-1M119.29 230.8v-0.6M122.55 230.8v-0.6M124.22 230.8v-1M126.17 230.8v-1.8M129.55 230.8v-0.8M132.71 230.8v-1.8M134.77 230.8v-1M137.06 230.8v-0.8M138.86 230.8v-0.4M140.56 230.8v-0.5M142.4 230.8v-0.6M143.98 230.8v-0.6M145.83 230.8v-1.8M147.39 230.8v-1.3M150.96 230.8v-1.3M153.88 230.8v-0.4M155.33 230.8v-1M157.29 230.8v-0.3M158.53 230.8v-0.3M159.94 230.8v-0.8M163.35 230.8v-1.8M166.25 230.8v-0.4M168.74 230.8v-0.4M170.39 230.8v-0.3M172.6 230.8v-0.4M175.4 230.8v-0.4" stroke="#555" stroke-width="0.35" fill="none"/>
<text class="s" transform="translate(180.6,232.83) scale(0.8,1)" font-size="4.8" text-anchor="start" fill="#111" stroke="#111" stroke-width="0.12">m/z</text>
<text class="s" transform="translate(20.1,134.02) scale(0.85,1)" font-size="5.6" text-anchor="end" fill="#111" stroke="#111" stroke-width="0.12">100</text>
<text class="s" transform="translate(20.1,232.82) scale(0.85,1)" font-size="5.6" text-anchor="end" fill="#111" stroke="#111" stroke-width="0.12">0</text>
<text class="s" font-size="5" fill="#222" stroke="#222" stroke-width="0.1" text-anchor="middle" transform="translate(21.3,181.8) rotate(-90) scale(0.8,1)">%</text>
<line x1="43.4" y1="131.7" x2="43.4" y2="230.8" stroke="#aaa" stroke-width="0.8" />
<line x1="44.5" y1="203.8" x2="44.5" y2="230.8" stroke="#888" stroke-width="0.7" />
<line x1="45.4" y1="224" x2="45.4" y2="230.8" stroke="#999" stroke-width="0.5" />
<line x1="31.4" y1="224.8" x2="31.4" y2="230.8" stroke="#bbb" stroke-width="0.5" />
<line x1="40.2" y1="226.6" x2="40.2" y2="230.8" stroke="#bbb" stroke-width="0.5" />
<line x1="80.4" y1="212" x2="80.4" y2="230.8" stroke="#888" stroke-width="0.7" />
<line x1="81.4" y1="226.6" x2="81.4" y2="230.8" stroke="#999" stroke-width="0.5" />
<line x1="83.5" y1="205.2" x2="83.5" y2="230.8" stroke="#666" stroke-width="0.7" />
<line x1="84.4" y1="224" x2="84.4" y2="230.8" stroke="#999" stroke-width="0.5" />
<line x1="102.4" y1="221.1" x2="102.4" y2="230.8" stroke="#bbb" stroke-width="0.6" />
<line x1="103.4" y1="226" x2="103.4" y2="230.8" stroke="#999" stroke-width="0.5" />
<line x1="113.2" y1="222.4" x2="113.2" y2="230.8" stroke="#777" stroke-width="0.6" />
<line x1="128.5" y1="228" x2="128.5" y2="230.8" stroke="#999" stroke-width="0.5" />
<line x1="156" y1="228.3" x2="156" y2="230.8" stroke="#aaa" stroke-width="0.5" />
<text class="s" transform="translate(34.7,130.8) scale(0.89,1)" font-size="5.0" text-anchor="start" fill="#222" stroke="#222" stroke-width="0.12">405.2639</text>
<text class="s" transform="translate(45.2,200.1) scale(0.89,1)" font-size="5.0" text-anchor="start" fill="#222" stroke="#222" stroke-width="0.12">406.2674</text>
<line x1="44.5" y1="203.6" x2="48.2" y2="199.9" stroke="#555" stroke-width="0.4" />
<text class="s" transform="translate(58.5,210.7) scale(0.89,1)" font-size="5.0" text-anchor="start" fill="#222" stroke="#222" stroke-width="0.12">447.1326</text>
<line x1="77.8" y1="210.2" x2="80.3" y2="212" stroke="#555" stroke-width="0.4" />
<text class="s" transform="translate(74.2,203.7) scale(0.89,1)" font-size="5.0" text-anchor="start" fill="#222" stroke="#222" stroke-width="0.12">451.2698</text>
<line x1="88.9" y1="171.46" x2="94.96" y2="174.78" stroke="#000" stroke-width="0.8" stroke-linecap="round"/>
<line x1="94.96" y1="174.78" x2="94.96" y2="181.42" stroke="#000" stroke-width="0.8" stroke-linecap="round"/>
<line x1="94.96" y1="181.42" x2="88.9" y2="184.74" stroke="#000" stroke-width="0.8" stroke-linecap="round"/>
<line x1="88.9" y1="184.74" x2="82.84" y2="181.42" stroke="#000" stroke-width="0.8" stroke-linecap="round"/>
<line x1="82.84" y1="181.42" x2="82.84" y2="174.78" stroke="#000" stroke-width="0.8" stroke-linecap="round"/>
<line x1="82.84" y1="174.78" x2="88.9" y2="171.46" stroke="#000" stroke-width="0.8" stroke-linecap="round"/>
<line x1="94.96" y1="174.78" x2="101.02" y2="171.46" stroke="#000" stroke-width="0.8" stroke-linecap="round"/>
<line x1="101.02" y1="171.46" x2="107.09" y2="174.78" stroke="#000" stroke-width="0.8" stroke-linecap="round"/>
<line x1="107.09" y1="174.78" x2="107.09" y2="181.42" stroke="#000" stroke-width="0.8" stroke-linecap="round"/>
<line x1="107.09" y1="181.42" x2="101.02" y2="184.74" stroke="#000" stroke-width="0.8" stroke-linecap="round"/>
<line x1="101.02" y1="184.74" x2="94.96" y2="181.42" stroke="#000" stroke-width="0.8" stroke-linecap="round"/>
<line x1="101.02" y1="171.46" x2="101.02" y2="164.82" stroke="#000" stroke-width="0.8" stroke-linecap="round"/>
<line x1="101.02" y1="164.82" x2="107.09" y2="161.5" stroke="#000" stroke-width="0.8" stroke-linecap="round"/>
<line x1="107.09" y1="161.5" x2="113.15" y2="164.82" stroke="#000" stroke-width="0.8" stroke-linecap="round"/>
<line x1="113.15" y1="164.82" x2="113.15" y2="171.46" stroke="#000" stroke-width="0.8" stroke-linecap="round"/>
<line x1="113.15" y1="171.46" x2="107.09" y2="174.78" stroke="#000" stroke-width="0.8" stroke-linecap="round"/>
<line x1="113.15" y1="164.82" x2="120.26" y2="161.83" stroke="#000" stroke-width="0.8" stroke-linecap="round"/>
<line x1="120.26" y1="161.83" x2="123.9" y2="167.61" stroke="#000" stroke-width="0.8" stroke-linecap="round"/>
<line x1="123.9" y1="167.61" x2="120.05" y2="172.46" stroke="#000" stroke-width="0.8" stroke-linecap="round"/>
<line x1="120.05" y1="172.46" x2="113.15" y2="171.46" stroke="#000" stroke-width="0.8" stroke-linecap="round"/>
<polygon points="94.96,174.78 94.64,167.08 101.02,171.46" fill="none" stroke="#000" stroke-width="1.14" stroke-linejoin="round"/>
<line x1="113.15" y1="164.02" x2="113.15" y2="158.18" stroke="#000" stroke-width="1.52" stroke-linecap="round"/>
<line x1="113.15" y1="172.92" x2="113.15" y2="177.3" stroke="#000" stroke-width="1.52" stroke-linecap="round"/>
<line x1="123.9" y1="167.61" x2="128.94" y2="168.01" stroke="#000" stroke-width="1.6720000000000002" stroke-linecap="round"/>
<text class="r" x="129.85" y="169.6" font-size="3.41" text-anchor="start" fill="#222" >OH</text>
<line x1="88.9" y1="184.74" x2="85.75" y2="190.05" stroke="#000" stroke-width="0.8" stroke-linecap="round"/>
<line x1="88.9" y1="184.74" x2="92.05" y2="190.05" stroke="#000" stroke-width="0.8" stroke-linecap="round"/>
<line x1="82.84" y1="181.42" x2="78.08" y2="183.81" stroke="#000" stroke-width="1.6720000000000002" stroke-linecap="round"/>
<text class="r" x="77.24" y="186.4" font-size="3.41" text-anchor="end" fill="#222" >HO</text>
<line x1="101.02" y1="184.74" x2="101.02" y2="189.52" stroke="#000" stroke-width="1.52" stroke-linecap="round"/>
<text class="r" x="101.02" y="193.04" font-size="3.41" text-anchor="start" fill="#222" >OH</text>
<line x1="120.26" y1="161.83" x2="125.72" y2="158.51" stroke="#000" stroke-width="0.8" stroke-linecap="round"/>
<line x1="125.72" y1="158.51" x2="121.73" y2="152.67" stroke="#000" stroke-width="0.8" stroke-linecap="round"/>
<line x1="121.73" y1="152.67" x2="125.72" y2="147.49" stroke="#000" stroke-width="0.8" stroke-linecap="round"/>
<line x1="125.72" y1="147.49" x2="132.58" y2="149.08" stroke="#000" stroke-width="0.8" stroke-linecap="round"/>
<line x1="132.58" y1="149.08" x2="132.3" y2="155.99" stroke="#000" stroke-width="0.8" stroke-linecap="round"/>
<line x1="132.3" y1="155.99" x2="125.72" y2="158.51" stroke="#000" stroke-width="0.8" stroke-linecap="round"/>
<line x1="125.72" y1="158.51" x2="127.82" y2="164.49" stroke="#000" stroke-width="1.52" stroke-linecap="round"/>
<text class="r" x="132.86" y="158.78" font-size="3.41" text-anchor="start" fill="#222" >O</text>
<line x1="132.58" y1="149.08" x2="138.18" y2="145.43" stroke="#000" stroke-width="1.52" stroke-linecap="round"/>
<line x1="133.98" y1="139.79" x2="142.38" y2="150.41" stroke="#000" stroke-width="0.8800000000000001" stroke-linecap="round"/>
<line x1="138.18" y1="145.43" x2="142.24" y2="142.64" stroke="#000" stroke-width="0.8800000000000001" stroke-linecap="round"/>
<line x1="128.6" y1="142" x2="146.3" y2="158.2" stroke="#111" stroke-width="0.7" />
<line x1="87.2" y1="142" x2="129" y2="142" stroke="#555" stroke-width="1.3" />
<polyline points="89.82,139.75 86.4,142 89.82,144.25" stroke="#222" stroke-width="0.9900000000000001" fill="none" stroke-linejoin="miter"/>
<text class="r" x="93.2" y="138.72" font-size="4.6" text-anchor="start" fill="#444" stroke="#444" stroke-width="0.14">m/z</text>
<text class="r" x="104.3" y="138.95" font-size="5.3" text-anchor="start" fill="#333" stroke="#333" stroke-width="0.14">405.2639</text>
<line x1="105.3" y1="211.4" x2="129.7" y2="167" stroke="#111" stroke-width="0.85" />
<line x1="83.4" y1="211.4" x2="105.6" y2="211.4" stroke="#2a2a2a" stroke-width="1.05" />
<polyline points="86.12,209.15 82.7,211.4 86.12,213.65" stroke="#222" stroke-width="0.935" fill="none" stroke-linejoin="miter"/>
<text class="r" x="84" y="218.33" font-size="4.65" text-anchor="start" fill="#777" stroke="#777" stroke-width="0.14">-4H m/z</text>
<text class="r" x="105.3" y="218.48" font-size="5.1" text-anchor="start" fill="#666" stroke="#666" stroke-width="0.14">451.2696</text>
</g>
<g id="panelN">
<text class="r" x="192.6" y="125.8" font-weight="bold" fill="#000"><tspan font-size="8.6" stroke="#000" stroke-width="0.25">N</tspan><tspan font-size="6.2" stroke="#000" stroke-width="0.2">(M17)</tspan></text>
<line x1="198.3" y1="126.2" x2="198.3" y2="230.8" stroke="#777" stroke-width="0.7" />
<path d="M198.3 230.8h-1.2M198.3 220.34h-0.7M198.3 209.88h-0.7M198.3 199.42h-0.7M198.3 188.96h-0.7M198.3 178.5h-1.2M198.3 168.04h-0.7M198.3 157.58h-0.7M198.3 147.12h-0.7M198.3 136.66h-0.7M198.3 126.2h-1.2" stroke="#777" stroke-width="0.4" fill="none"/>
<line x1="197.8" y1="230.8" x2="356.3" y2="230.8" stroke="#222" stroke-width="0.7" />
<line x1="212" y1="230.8" x2="212" y2="232.2" stroke="#222" stroke-width="0.5" />
<text class="s" transform="translate(212,239.44) scale(0.75,1)" font-size="5.4" text-anchor="middle" fill="#111" stroke="#111" stroke-width="0.12">400</text>
<line x1="224.8" y1="230.8" x2="224.8" y2="232.2" stroke="#222" stroke-width="0.5" />
<text class="s" transform="translate(224.8,239.44) scale(0.75,1)" font-size="5.4" text-anchor="middle" fill="#111" stroke="#111" stroke-width="0.12">450</text>
<line x1="237.6" y1="230.8" x2="237.6" y2="232.2" stroke="#222" stroke-width="0.5" />
<text class="s" transform="translate(237.6,239.44) scale(0.75,1)" font-size="5.4" text-anchor="middle" fill="#111" stroke="#111" stroke-width="0.12">500</text>
<line x1="250.4" y1="230.8" x2="250.4" y2="232.2" stroke="#222" stroke-width="0.5" />
<text class="s" transform="translate(250.4,239.44) scale(0.75,1)" font-size="5.4" text-anchor="middle" fill="#111" stroke="#111" stroke-width="0.12">550</text>
<line x1="263.2" y1="230.8" x2="263.2" y2="232.2" stroke="#222" stroke-width="0.5" />
<text class="s" transform="translate(263.2,239.44) scale(0.75,1)" font-size="5.4" text-anchor="middle" fill="#111" stroke="#111" stroke-width="0.12">600</text>
<line x1="276" y1="230.8" x2="276" y2="232.2" stroke="#222" stroke-width="0.5" />
<text class="s" transform="translate(276,239.44) scale(0.75,1)" font-size="5.4" text-anchor="middle" fill="#111" stroke="#111" stroke-width="0.12">650</text>
<line x1="288.8" y1="230.8" x2="288.8" y2="232.2" stroke="#222" stroke-width="0.5" />
<text class="s" transform="translate(288.8,239.44) scale(0.75,1)" font-size="5.4" text-anchor="middle" fill="#111" stroke="#111" stroke-width="0.12">700</text>
<line x1="301.6" y1="230.8" x2="301.6" y2="232.2" stroke="#222" stroke-width="0.5" />
<text class="s" transform="translate(301.6,239.44) scale(0.75,1)" font-size="5.4" text-anchor="middle" fill="#111" stroke="#111" stroke-width="0.12">750</text>
<line x1="314.4" y1="230.8" x2="314.4" y2="232.2" stroke="#222" stroke-width="0.5" />
<text class="s" transform="translate(314.4,239.44) scale(0.75,1)" font-size="5.4" text-anchor="middle" fill="#111" stroke="#111" stroke-width="0.12">800</text>
<line x1="327.2" y1="230.8" x2="327.2" y2="232.2" stroke="#222" stroke-width="0.5" />
<text class="s" transform="translate(327.2,239.44) scale(0.75,1)" font-size="5.4" text-anchor="middle" fill="#111" stroke="#111" stroke-width="0.12">850</text>
<line x1="340" y1="230.8" x2="340" y2="232.2" stroke="#222" stroke-width="0.5" />
<text class="s" transform="translate(340,239.44) scale(0.75,1)" font-size="5.4" text-anchor="middle" fill="#111" stroke="#111" stroke-width="0.12">900</text>
<line x1="352.8" y1="230.8" x2="352.8" y2="232.2" stroke="#222" stroke-width="0.5" />
<text class="s" transform="translate(352.8,239.44) scale(0.75,1)" font-size="5.4" text-anchor="middle" fill="#111" stroke="#111" stroke-width="0.12">950</text>
<path d="M199.2 230.8v0.8M201.76 230.8v0.8M204.32 230.8v0.8M206.88 230.8v0.8M209.44 230.8v0.8M212 230.8v0.8M214.56 230.8v0.8M217.12 230.8v0.8M219.68 230.8v0.8M222.24 230.8v0.8M224.8 230.8v0.8M227.36 230.8v0.8M229.92 230.8v0.8M232.48 230.8v0.8M235.04 230.8v0.8M237.6 230.8v0.8M240.16 230.8v0.8M242.72 230.8v0.8M245.28 230.8v0.8M247.84 230.8v0.8M250.4 230.8v0.8M252.96 230.8v0.8M255.52 230.8v0.8M258.08 230.8v0.8M260.64 230.8v0.8M263.2 230.8v0.8M265.76 230.8v0.8M268.32 230.8v0.8M270.88 230.8v0.8M273.44 230.8v0.8M276 230.8v0.8M278.56 230.8v0.8M281.12 230.8v0.8M283.68 230.8v0.8M286.24 230.8v0.8M288.8 230.8v0.8M291.36 230.8v0.8M293.92 230.8v0.8M296.48 230.8v0.8M299.04 230.8v0.8M301.6 230.8v0.8M304.16 230.8v0.8M306.72 230.8v0.8M309.28 230.8v0.8M311.84 230.8v0.8M314.4 230.8v0.8M316.96 230.8v0.8M319.52 230.8v0.8M322.08 230.8v0.8M324.64 230.8v0.8M327.2 230.8v0.8M329.76 230.8v0.8M332.32 230.8v0.8M334.88 230.8v0.8M337.44 230.8v0.8M340 230.8v0.8M342.56 230.8v0.8M345.12 230.8v0.8M347.68 230.8v0.8M350.24 230.8v0.8M352.8 230.8v0.8M355.36 230.8v0.8" stroke="#333" stroke-width="0.35" fill="none"/>
<path d="M200.3 230.8v-0.4M202.22 230.8v-1.3M203.69 230.8v-1M205.06 230.8v-1M208.05 230.8v-0.5M210.67 230.8v-1M214.19 230.8v-0.6M216.55 230.8v-1.8M219.37 230.8v-0.8M220.82 230.8v-1M222.2 230.8v-1.8M225.06 230.8v-1M228.27 230.8v-1.8M231.6 230.8v-0.4M233.73 230.8v-0.6M235.34 230.8v-1M237.38 230.8v-0.3M240.22 230.8v-0.3M242.92 230.8v-0.8M245 230.8v-1M247.78 230.8v-0.6M250.69 230.8v-0.8M254.17 230.8v-1M256.42 230.8v-0.6M259.48 230.8v-0.4M263.02 230.8v-1.8M264.33 230.8v-0.8M267.5 230.8v-0.6M270.07 230.8v-0.8M271.85 230.8v-0.4M273.96 230.8v-0.6M275.26 230.8v-1.8M277.48 230.8v-1.3M280.66 230.8v-0.5M283.35 230.8v-1.8M286.88 230.8v-1.3M288.99 230.8v-1.3M292.1 230.8v-1.3M294.24 230.8v-0.5M297.33 230.8v-1.3M300.2 230.8v-0.8M302.87 230.8v-0.8M305.19 230.8v-0.4M308.58 230.8v-0.6M311.27 230.8v-0.8M314.13 230.8v-1.3M316.6 230.8v-0.5M318.48 230.8v-1M321.56 230.8v-0.6M324.55 230.8v-1M327.9 230.8v-1M331.35 230.8v-0.4M333.75 230.8v-1.8M336.34 230.8v-0.5M338.5 230.8v-1.3M341.36 230.8v-0.5M344.15 230.8v-0.3M347.75 230.8v-0.8M349.51 230.8v-0.3M353 230.8v-0.8" stroke="#555" stroke-width="0.35" fill="none"/>
<text class="s" transform="translate(358.7,232.83) scale(0.8,1)" font-size="4.8" text-anchor="start" fill="#111" stroke="#111" stroke-width="0.12">m/z</text>
<text class="s" transform="translate(196.1,232.53) scale(0.8,1)" font-size="4.8" text-anchor="end" fill="#111" stroke="#111" stroke-width="0.12">7</text>
<text class="s" font-size="5" fill="#222" stroke="#222" stroke-width="0.1" text-anchor="middle" transform="translate(197.3,181.5) rotate(-90) scale(0.8,1)">%</text>
<line x1="229.4" y1="185.5" x2="229.4" y2="230.8" stroke="#999" stroke-width="0.7" />
<line x1="229.4" y1="219.3" x2="229.4" y2="230.8" stroke="#111" stroke-width="0.9" />
<line x1="233.6" y1="169.2" x2="233.6" y2="230.8" stroke="#aaa" stroke-width="0.75" />
<line x1="234.2" y1="212" x2="234.2" y2="230.8" stroke="#888" stroke-width="0.4" />
<line x1="240.9" y1="213.8" x2="240.9" y2="230.8" stroke="#bbb" stroke-width="0.6" />
<line x1="277.2" y1="222.4" x2="277.2" y2="230.8" stroke="#aaa" stroke-width="0.6" />
<text class="s" transform="translate(224.8,167.52) scale(0.88,1)" font-size="4.5" text-anchor="start" fill="#222" stroke="#222" stroke-width="0.12">485.2800</text>
<text class="s" transform="translate(212.5,182.32) scale(0.88,1)" font-size="4.5" text-anchor="start" fill="#222" stroke="#222" stroke-width="0.12">469.2490</text>
<line x1="227" y1="182.8" x2="229.3" y2="185.6" stroke="#555" stroke-width="0.4" />
<text class="s" transform="translate(234,208.62) scale(0.88,1)" font-size="4.5" text-anchor="start" fill="#222" stroke="#222" stroke-width="0.12">486.2813</text>
<line x1="234.2" y1="211.8" x2="236" y2="209" stroke="#555" stroke-width="0.4" />
<text class="s" transform="translate(268.7,220.92) scale(0.88,1)" font-size="4.5" text-anchor="start" fill="#222" stroke="#222" stroke-width="0.12">654.9940</text>
<polyline points="246.1,124 242.9,124 242.9,178.5 246.1,178.5" stroke="#333" stroke-width="0.95" fill="none" />
<polyline points="334.1,124 337.3,124 337.3,178.5 334.1,178.5" stroke="#333" stroke-width="0.95" fill="none" />
<line x1="335.1" y1="144.5" x2="341.8" y2="144.5" stroke="#222" stroke-width="0.8" />
<text class="r" x="342.2" y="145.86" font-size="2.6" text-anchor="start" fill="#666" stroke="#666" stroke-width="0.14">C<tspan dy="0.7" font-size="1.9">6</tspan><tspan dy="-0.7">H</tspan><tspan dy="0.7" font-size="1.9">9</tspan><tspan dy="-0.7">O</tspan><tspan dy="0.7" font-size="1.9">5</tspan></text>
<line x1="282.2" y1="153.95" x2="287.83" y2="157.22" stroke="#000" stroke-width="0.8" stroke-linecap="round"/>
<line x1="287.83" y1="157.22" x2="287.83" y2="163.78" stroke="#000" stroke-width="0.8" stroke-linecap="round"/>
<line x1="287.83" y1="163.78" x2="282.2" y2="167.05" stroke="#000" stroke-width="0.8" stroke-linecap="round"/>
<line x1="282.2" y1="167.05" x2="276.57" y2="163.78" stroke="#000" stroke-width="0.8" stroke-linecap="round"/>
<line x1="276.57" y1="163.78" x2="276.57" y2="157.22" stroke="#000" stroke-width="0.8" stroke-linecap="round"/>
<line x1="276.57" y1="157.22" x2="282.2" y2="153.95" stroke="#000" stroke-width="0.8" stroke-linecap="round"/>
<line x1="287.83" y1="157.22" x2="293.46" y2="153.95" stroke="#000" stroke-width="0.8" stroke-linecap="round"/>
<line x1="293.46" y1="153.95" x2="299.09" y2="157.22" stroke="#000" stroke-width="0.8" stroke-linecap="round"/>
<line x1="299.09" y1="157.22" x2="299.09" y2="163.78" stroke="#000" stroke-width="0.8" stroke-linecap="round"/>
<line x1="299.09" y1="163.78" x2="293.46" y2="167.05" stroke="#000" stroke-width="0.8" stroke-linecap="round"/>
<line x1="293.46" y1="167.05" x2="287.83" y2="163.78" stroke="#000" stroke-width="0.8" stroke-linecap="round"/>
<line x1="293.46" y1="153.95" x2="293.46" y2="147.4" stroke="#000" stroke-width="0.8" stroke-linecap="round"/>
<line x1="293.46" y1="147.4" x2="299.09" y2="144.12" stroke="#000" stroke-width="0.8" stroke-linecap="round"/>
<line x1="299.09" y1="144.12" x2="304.72" y2="147.4" stroke="#000" stroke-width="0.8" stroke-linecap="round"/>
<line x1="304.72" y1="147.4" x2="304.72" y2="153.95" stroke="#000" stroke-width="0.8" stroke-linecap="round"/>
<line x1="304.72" y1="153.95" x2="299.09" y2="157.22" stroke="#000" stroke-width="0.8" stroke-linecap="round"/>
<line x1="304.72" y1="147.4" x2="311.32" y2="144.45" stroke="#000" stroke-width="0.8" stroke-linecap="round"/>
<line x1="311.32" y1="144.45" x2="314.7" y2="150.15" stroke="#000" stroke-width="0.8" stroke-linecap="round"/>
<line x1="314.7" y1="150.15" x2="311.12" y2="154.93" stroke="#000" stroke-width="0.8" stroke-linecap="round"/>
<line x1="311.12" y1="154.93" x2="304.72" y2="153.95" stroke="#000" stroke-width="0.8" stroke-linecap="round"/>
<polygon points="287.83,157.22 287.53,149.63 293.46,153.95" fill="none" stroke="#000" stroke-width="1.14" stroke-linejoin="round"/>
<line x1="304.72" y1="146.61" x2="304.72" y2="140.85" stroke="#000" stroke-width="1.52" stroke-linecap="round"/>
<line x1="304.72" y1="155.39" x2="304.72" y2="159.71" stroke="#000" stroke-width="1.52" stroke-linecap="round"/>
<line x1="314.7" y1="150.15" x2="319.38" y2="150.54" stroke="#000" stroke-width="1.6720000000000002" stroke-linecap="round"/>
<text class="r" x="320.22" y="152.12" font-size="3.2625" text-anchor="start" fill="#222" >OH</text>
<line x1="282.2" y1="167.05" x2="279.27" y2="172.29" stroke="#000" stroke-width="0.8" stroke-linecap="round"/>
<line x1="282.2" y1="167.05" x2="285.12" y2="172.29" stroke="#000" stroke-width="0.8" stroke-linecap="round"/>
<line x1="276.57" y1="163.78" x2="272.15" y2="166.13" stroke="#000" stroke-width="1.6720000000000002" stroke-linecap="round"/>
<line x1="293.46" y1="167.05" x2="293.46" y2="171.77" stroke="#000" stroke-width="1.52" stroke-linecap="round"/>
<line x1="311.32" y1="144.45" x2="316.06" y2="142.36" stroke="#000" stroke-width="0.8" stroke-linecap="round"/>
<line x1="316.06" y1="142.36" x2="312.36" y2="136.59" stroke="#000" stroke-width="0.8" stroke-linecap="round"/>
<line x1="312.36" y1="136.59" x2="316.06" y2="131.48" stroke="#000" stroke-width="0.8" stroke-linecap="round"/>
<line x1="316.06" y1="131.48" x2="322.44" y2="133.06" stroke="#000" stroke-width="0.8" stroke-linecap="round"/>
<line x1="322.44" y1="133.06" x2="322.18" y2="139.87" stroke="#000" stroke-width="0.8" stroke-linecap="round"/>
<line x1="322.18" y1="139.87" x2="316.06" y2="142.36" stroke="#000" stroke-width="0.8" stroke-linecap="round"/>
<line x1="316.06" y1="142.36" x2="318.01" y2="148.25" stroke="#000" stroke-width="1.52" stroke-linecap="round"/>
<text class="r" x="322.69" y="142.62" font-size="3.2625" text-anchor="start" fill="#222" >O</text>
<line x1="322.44" y1="133.06" x2="327.63" y2="129.45" stroke="#000" stroke-width="1.52" stroke-linecap="round"/>
<line x1="323.74" y1="123.89" x2="331.53" y2="134.37" stroke="#000" stroke-width="0.8800000000000001" stroke-linecap="round"/>
<line x1="327.63" y1="129.45" x2="331.4" y2="126.7" stroke="#000" stroke-width="0.8800000000000001" stroke-linecap="round"/>
<text class="r" x="332.06" y="127.36" font-size="3.2625" text-anchor="start" fill="#222" >OH</text>
<polyline points="268.62,171.23 264.46,165.3 254.16,167.38 249.9,165.3" stroke="#000" stroke-width="0.65" fill="none" stroke-linejoin="round"/>
<polyline points="249.9,165.3 252.29,171.02 262.38,168.94 268.62,171.23" stroke="#000" stroke-width="1.35" fill="none" stroke-linejoin="round" stroke-linecap="round"/>
<line x1="249.9" y1="165.3" x2="247.9" y2="167.1" stroke="#000" stroke-width="0.5" />
<text class="r" x="247.9" y="168.49" font-size="3.0" text-anchor="end" fill="#222" stroke="#222" stroke-width="0.08">HO</text>
<line x1="252.29" y1="171.02" x2="249.29" y2="171.82" stroke="#000" stroke-width="0.5" />
<text class="r" x="249.29" y="173.31" font-size="3.0" text-anchor="end" fill="#222" stroke="#222" stroke-width="0.08">HO</text>
<line x1="262.38" y1="168.94" x2="264.18" y2="173.14" stroke="#000" stroke-width="0.5" />
<text class="r" x="263.38" y="175.93" font-size="3.0" text-anchor="start" fill="#222" stroke="#222" stroke-width="0.08">OH</text>
<line x1="254.16" y1="167.38" x2="255.16" y2="164.78" stroke="#000" stroke-width="0.45" />
<line x1="268.62" y1="171.23" x2="269.82" y2="168.03" stroke="#000" stroke-width="0.5" />
<text class="r" x="269.3" y="168" font-size="2.9" text-anchor="start" fill="#333" >O</text>
<polyline points="317.6,176.91 313.8,171.5 304.39,173.4 300.5,171.5" stroke="#000" stroke-width="0.65" fill="none" stroke-linejoin="round"/>
<polyline points="300.5,171.5 302.69,176.72 311.9,174.82 317.6,176.91" stroke="#000" stroke-width="1.35" fill="none" stroke-linejoin="round" stroke-linecap="round"/>
<line x1="300.5" y1="171.5" x2="294.5" y2="173.1" stroke="#000" stroke-width="0.5" />
<text class="r" x="294.1" y="174.39" font-size="3.0" text-anchor="end" fill="#222" stroke="#222" stroke-width="0.08">O</text>
<polyline points="313.8,171.5 317.8,171.1 320,168.9" stroke="#000" stroke-width="0.5" fill="none" />
<text class="r" x="320.3" y="169.29" font-size="3.0" text-anchor="start" fill="#222" stroke="#222" stroke-width="0.08">OH</text>
<line x1="317.6" y1="176.91" x2="319.2" y2="175.31" stroke="#000" stroke-width="0.5" />
<text class="r" x="319.2" y="176" font-size="3.0" text-anchor="start" fill="#222" stroke="#222" stroke-width="0.08">OH</text>
<line x1="311.9" y1="174.82" x2="313.1" y2="177.02" stroke="#000" stroke-width="0.5" />
<text class="r" x="312.5" y="179.01" font-size="3.0" text-anchor="start" fill="#222" stroke="#222" stroke-width="0.08">OH</text>
<text class="r" x="302.29" y="177.52" font-size="3.0" text-anchor="end" fill="#222" stroke="#222" stroke-width="0.08">HO</text>
<polyline points="261,158.3 284,184.7 350.6,134.6" stroke="#111" stroke-width="0.8" fill="none" />
<line x1="242" y1="184.7" x2="284" y2="184.7" stroke="#333" stroke-width="1.35" />
<polyline points="245.33,182.04 241.3,184.7 245.33,187.36" stroke="#222" stroke-width="1.1" fill="none" stroke-linejoin="miter"/>
<text class="r" x="248.9" y="191.95" font-size="5.0" text-anchor="start" fill="#666" stroke="#666" stroke-width="0.14">-4H</text>
<text class="r" x="261" y="191.85" font-size="4.7" text-anchor="start" fill="#666" stroke="#666" stroke-width="0.14">m/z</text>
<text class="r" x="273" y="191.98" font-size="5.1" text-anchor="start" fill="#555" stroke="#555" stroke-width="0.14">485.2800</text>
</g>
<g id="panelO">
<text class="r" x="379.4" y="125.8" font-weight="bold" fill="#000"><tspan font-size="8.6" stroke="#000" stroke-width="0.25">O</tspan><tspan font-size="6.2" stroke="#000" stroke-width="0.2">(M18,M19)</tspan></text>
<line x1="376.9" y1="126.2" x2="376.9" y2="230.8" stroke="#777" stroke-width="0.7" />
<path d="M376.9 230.8h-1.2M376.9 220.34h-0.7M376.9 209.88h-0.7M376.9 199.42h-0.7M376.9 188.96h-0.7M376.9 178.5h-1.2M376.9 168.04h-0.7M376.9 157.58h-0.7M376.9 147.12h-0.7M376.9 136.66h-0.7M376.9 126.2h-1.2" stroke="#777" stroke-width="0.4" fill="none"/>
<line x1="376.4" y1="230.8" x2="535" y2="230.8" stroke="#222" stroke-width="0.7" />
<line x1="377.77" y1="230.8" x2="377.77" y2="232.2" stroke="#222" stroke-width="0.5" />
<text class="s" transform="translate(377.77,238.54) scale(0.75,1)" font-size="5.4" text-anchor="middle" fill="#111" stroke="#111" stroke-width="0.12">350</text>
<line x1="392.4" y1="230.8" x2="392.4" y2="232.2" stroke="#222" stroke-width="0.5" />
<text class="s" transform="translate(392.4,238.54) scale(0.75,1)" font-size="5.4" text-anchor="middle" fill="#111" stroke="#111" stroke-width="0.12">400</text>
<line x1="407.02" y1="230.8" x2="407.02" y2="232.2" stroke="#222" stroke-width="0.5" />
<text class="s" transform="translate(407.02,238.54) scale(0.75,1)" font-size="5.4" text-anchor="middle" fill="#111" stroke="#111" stroke-width="0.12">450</text>
<line x1="421.65" y1="230.8" x2="421.65" y2="232.2" stroke="#222" stroke-width="0.5" />
<text class="s" transform="translate(421.65,238.54) scale(0.75,1)" font-size="5.4" text-anchor="middle" fill="#111" stroke="#111" stroke-width="0.12">500</text>
<line x1="436.27" y1="230.8" x2="436.27" y2="232.2" stroke="#222" stroke-width="0.5" />
<text class="s" transform="translate(436.27,238.54) scale(0.75,1)" font-size="5.4" text-anchor="middle" fill="#111" stroke="#111" stroke-width="0.12">550</text>
<line x1="450.9" y1="230.8" x2="450.9" y2="232.2" stroke="#222" stroke-width="0.5" />
<text class="s" transform="translate(450.9,238.54) scale(0.75,1)" font-size="5.4" text-anchor="middle" fill="#111" stroke="#111" stroke-width="0.12">600</text>
<line x1="465.52" y1="230.8" x2="465.52" y2="232.2" stroke="#222" stroke-width="0.5" />
<text class="s" transform="translate(465.52,238.54) scale(0.75,1)" font-size="5.4" text-anchor="middle" fill="#111" stroke="#111" stroke-width="0.12">650</text>
<line x1="480.15" y1="230.8" x2="480.15" y2="232.2" stroke="#222" stroke-width="0.5" />
<text class="s" transform="translate(480.15,238.54) scale(0.75,1)" font-size="5.4" text-anchor="middle" fill="#111" stroke="#111" stroke-width="0.12">700</text>
<line x1="494.77" y1="230.8" x2="494.77" y2="232.2" stroke="#222" stroke-width="0.5" />
<text class="s" transform="translate(494.77,238.54) scale(0.75,1)" font-size="5.4" text-anchor="middle" fill="#111" stroke="#111" stroke-width="0.12">750</text>
<line x1="509.4" y1="230.8" x2="509.4" y2="232.2" stroke="#222" stroke-width="0.5" />
<text class="s" transform="translate(509.4,238.54) scale(0.75,1)" font-size="5.4" text-anchor="middle" fill="#111" stroke="#111" stroke-width="0.12">800</text>
<line x1="524.02" y1="230.8" x2="524.02" y2="232.2" stroke="#222" stroke-width="0.5" />
<text class="s" transform="translate(524.02,238.54) scale(0.75,1)" font-size="5.4" text-anchor="middle" fill="#111" stroke="#111" stroke-width="0.12">850</text>
<path d="M377.77 230.8v0.8M380.7 230.8v0.8M383.62 230.8v0.8M386.55 230.8v0.8M389.48 230.8v0.8M392.4 230.8v0.8M395.33 230.8v0.8M398.25 230.8v0.8M401.18 230.8v0.8M404.1 230.8v0.8M407.03 230.8v0.8M409.95 230.8v0.8M412.88 230.8v0.8M415.8 230.8v0.8M418.73 230.8v0.8M421.65 230.8v0.8M424.58 230.8v0.8M427.5 230.8v0.8M430.43 230.8v0.8M433.35 230.8v0.8M436.28 230.8v0.8M439.2 230.8v0.8M442.13 230.8v0.8M445.05 230.8v0.8M447.98 230.8v0.8M450.9 230.8v0.8M453.83 230.8v0.8M456.75 230.8v0.8M459.68 230.8v0.8M462.6 230.8v0.8M465.53 230.8v0.8M468.45 230.8v0.8M471.38 230.8v0.8M474.3 230.8v0.8M477.23 230.8v0.8M480.15 230.8v0.8M483.08 230.8v0.8M486 230.8v0.8M488.93 230.8v0.8M491.85 230.8v0.8M494.78 230.8v0.8M497.7 230.8v0.8M500.63 230.8v0.8M503.55 230.8v0.8M506.48 230.8v0.8M509.4 230.8v0.8M512.33 230.8v0.8M515.25 230.8v0.8M518.18 230.8v0.8M521.1 230.8v0.8M524.03 230.8v0.8M526.95 230.8v0.8M529.88 230.8v0.8M532.8 230.8v0.8" stroke="#333" stroke-width="0.35" fill="none"/>
<path d="M378.9 230.8v-1.8M380.5 230.8v-0.6M381.85 230.8v-0.5M384.17 230.8v-0.8M386.96 230.8v-1.3M389.6 230.8v-1.3M393.06 230.8v-1.3M394.45 230.8v-0.8M397.52 230.8v-1.8M400.46 230.8v-0.5M401.75 230.8v-1M404.44 230.8v-0.5M406.09 230.8v-0.8M408.29 230.8v-1M410.8 230.8v-0.8M412.76 230.8v-0.4M414.33 230.8v-0.3M415.97 230.8v-0.4M417.68 230.8v-0.3M420.49 230.8v-0.6M423.61 230.8v-0.3M425.22 230.8v-0.5M428.61 230.8v-0.8M431.09 230.8v-0.5M433.77 230.8v-1.3M437 230.8v-1.3M439.11 230.8v-1.3M440.42 230.8v-0.4M443 230.8v-1.3M445.55 230.8v-0.3M447.7 230.8v-1M449.94 230.8v-1.3M453 230.8v-0.3M454.55 230.8v-0.3M458.14 230.8v-0.8M459.45 230.8v-0.8M461.14 230.8v-1M463.79 230.8v-1M465.98 230.8v-1.8M469.35 230.8v-1.3M472.75 230.8v-1.3M475.6 230.8v-1.3M477.71 230.8v-0.6M480.55 230.8v-1.8M483.87 230.8v-1M485.72 230.8v-1.3M487.41 230.8v-1.3M488.63 230.8v-1.8M490.87 230.8v-1.3M492.36 230.8v-1.3M494.81 230.8v-0.4M497.08 230.8v-0.8M499.58 230.8v-0.6M501.61 230.8v-1.8M503.21 230.8v-0.3M504.83 230.8v-0.5M507.88 230.8v-0.3M511.15 230.8v-1M513.43 230.8v-0.6M516.56 230.8v-0.8M519.96 230.8v-0.8M521.18 230.8v-0.4M522.52 230.8v-0.3M525.68 230.8v-0.3M527.69 230.8v-1.8M529.42 230.8v-1M532.04 230.8v-0.6" stroke="#555" stroke-width="0.35" fill="none"/>
<text class="s" transform="translate(537.4,232.83) scale(0.8,1)" font-size="4.8" text-anchor="start" fill="#111" stroke="#111" stroke-width="0.12">m/z</text>
<text class="s" transform="translate(374.7,232.53) scale(0.8,1)" font-size="4.8" text-anchor="end" fill="#111" stroke="#111" stroke-width="0.12">5</text>
<text class="s" font-size="5" fill="#222" stroke="#222" stroke-width="0.1" text-anchor="middle" transform="translate(375.9,181.5) rotate(-90) scale(0.8,1)">%</text>
<line x1="391.1" y1="219.3" x2="391.1" y2="230.8" stroke="#888" stroke-width="0.6" />
<line x1="412.9" y1="194.6" x2="412.9" y2="230.8" stroke="#999" stroke-width="0.7" />
<line x1="412.9" y1="221" x2="412.9" y2="230.8" stroke="#222" stroke-width="0.9" />
<line x1="417.5" y1="198.3" x2="417.5" y2="230.8" stroke="#333" stroke-width="0.8" />
<line x1="466.5" y1="216.6" x2="466.5" y2="230.8" stroke="#333" stroke-width="0.7" />
<line x1="467.4" y1="224" x2="467.4" y2="230.8" stroke="#888" stroke-width="0.5" />
<line x1="477.4" y1="226.6" x2="477.4" y2="230.8" stroke="#bbb" stroke-width="0.5" />
<text class="s" transform="translate(382.9,216.92) scale(0.88,1)" font-size="4.5" text-anchor="start" fill="#222" stroke="#222" stroke-width="0.12">396.2358</text>
<text class="s" transform="translate(404.9,192.62) scale(0.88,1)" font-size="4.5" text-anchor="start" fill="#222" stroke="#222" stroke-width="0.12">469.2489</text>
<text class="s" transform="translate(418.4,210.52) scale(0.88,1)" font-size="4.5" text-anchor="start" fill="#222" stroke="#222" stroke-width="0.12">485.2829</text>
<text class="s" transform="translate(458.2,216.22) scale(0.88,1)" font-size="4.5" text-anchor="start" fill="#222" stroke="#222" stroke-width="0.12">651.0512</text>
<text class="s" transform="translate(468.5,222.72) scale(0.88,1)" font-size="4.5" text-anchor="start" fill="#222" stroke="#222" stroke-width="0.12">652.0436</text>
<line x1="467.4" y1="224" x2="468.4" y2="222.5" stroke="#555" stroke-width="0.4" />
<polyline points="427.4,137.5 424.4,137.5 424.4,191.3 427.4,191.3" stroke="#333" stroke-width="0.95" fill="none" />
<polyline points="511.5,137.5 514.5,137.5 514.5,191.6 511.5,191.6" stroke="#333" stroke-width="0.95" fill="none" />
<line x1="512.5" y1="163.4" x2="518.5" y2="163.4" stroke="#222" stroke-width="0.8" />
<text class="r" x="518.9" y="164.59" font-size="2.4" text-anchor="start" fill="#666" stroke="#666" stroke-width="0.14">C<tspan dy="0.7" font-size="1.9">6</tspan><tspan dy="-0.7">H</tspan><tspan dy="0.7" font-size="1.9">9</tspan><tspan dy="-0.7">O</tspan><tspan dy="0.7" font-size="1.9">5</tspan></text>
<line x1="462.3" y1="166.55" x2="467.63" y2="169.68" stroke="#000" stroke-width="0.8" stroke-linecap="round"/>
<line x1="467.63" y1="169.68" x2="467.63" y2="175.93" stroke="#000" stroke-width="0.8" stroke-linecap="round"/>
<line x1="467.63" y1="175.93" x2="462.3" y2="179.05" stroke="#000" stroke-width="0.8" stroke-linecap="round"/>
<line x1="462.3" y1="179.05" x2="456.97" y2="175.93" stroke="#000" stroke-width="0.8" stroke-linecap="round"/>
<line x1="456.97" y1="175.93" x2="456.97" y2="169.68" stroke="#000" stroke-width="0.8" stroke-linecap="round"/>
<line x1="456.97" y1="169.68" x2="462.3" y2="166.55" stroke="#000" stroke-width="0.8" stroke-linecap="round"/>
<line x1="467.63" y1="169.68" x2="472.95" y2="166.55" stroke="#000" stroke-width="0.8" stroke-linecap="round"/>
<line x1="472.95" y1="166.55" x2="478.28" y2="169.68" stroke="#000" stroke-width="0.8" stroke-linecap="round"/>
<line x1="478.28" y1="169.68" x2="478.28" y2="175.93" stroke="#000" stroke-width="0.8" stroke-linecap="round"/>
<line x1="478.28" y1="175.93" x2="472.95" y2="179.05" stroke="#000" stroke-width="0.8" stroke-linecap="round"/>
<line x1="472.95" y1="179.05" x2="467.63" y2="175.93" stroke="#000" stroke-width="0.8" stroke-linecap="round"/>
<line x1="472.95" y1="166.55" x2="472.95" y2="160.3" stroke="#000" stroke-width="0.8" stroke-linecap="round"/>
<line x1="472.95" y1="160.3" x2="478.28" y2="157.18" stroke="#000" stroke-width="0.8" stroke-linecap="round"/>
<line x1="478.28" y1="157.18" x2="483.6" y2="160.3" stroke="#000" stroke-width="0.8" stroke-linecap="round"/>
<line x1="483.6" y1="160.3" x2="483.6" y2="166.55" stroke="#000" stroke-width="0.8" stroke-linecap="round"/>
<line x1="483.6" y1="166.55" x2="478.28" y2="169.68" stroke="#000" stroke-width="0.8" stroke-linecap="round"/>
<line x1="483.6" y1="160.3" x2="489.85" y2="157.49" stroke="#000" stroke-width="0.8" stroke-linecap="round"/>
<line x1="489.85" y1="157.49" x2="493.05" y2="162.93" stroke="#000" stroke-width="0.8" stroke-linecap="round"/>
<line x1="493.05" y1="162.93" x2="489.67" y2="167.49" stroke="#000" stroke-width="0.8" stroke-linecap="round"/>
<line x1="489.67" y1="167.49" x2="483.6" y2="166.55" stroke="#000" stroke-width="0.8" stroke-linecap="round"/>
<polygon points="467.63,169.68 467.34,162.43 472.95,166.55" fill="none" stroke="#000" stroke-width="1.14" stroke-linejoin="round"/>
<line x1="483.6" y1="159.55" x2="483.6" y2="154.05" stroke="#000" stroke-width="1.52" stroke-linecap="round"/>
<line x1="483.6" y1="167.93" x2="483.6" y2="172.05" stroke="#000" stroke-width="1.52" stroke-linecap="round"/>
<line x1="493.05" y1="162.93" x2="497.48" y2="163.3" stroke="#000" stroke-width="1.6720000000000002" stroke-linecap="round"/>
<text class="r" x="498.28" y="164.8" font-size="3.1" text-anchor="start" fill="#222" >OH</text>
<line x1="462.3" y1="179.05" x2="459.53" y2="184.05" stroke="#000" stroke-width="0.8" stroke-linecap="round"/>
<line x1="462.3" y1="179.05" x2="465.07" y2="184.05" stroke="#000" stroke-width="0.8" stroke-linecap="round"/>
<line x1="456.97" y1="175.93" x2="452.79" y2="178.18" stroke="#000" stroke-width="1.6720000000000002" stroke-linecap="round"/>
<line x1="472.95" y1="179.05" x2="472.95" y2="183.55" stroke="#000" stroke-width="1.52" stroke-linecap="round"/>
<line x1="489.85" y1="157.49" x2="494.1" y2="155.43" stroke="#000" stroke-width="0.8" stroke-linecap="round"/>
<line x1="494.1" y1="155.43" x2="490.59" y2="149.93" stroke="#000" stroke-width="0.8" stroke-linecap="round"/>
<line x1="490.59" y1="149.93" x2="494.1" y2="145.05" stroke="#000" stroke-width="0.8" stroke-linecap="round"/>
<line x1="494.1" y1="145.05" x2="500.12" y2="146.55" stroke="#000" stroke-width="0.8" stroke-linecap="round"/>
<line x1="500.12" y1="146.55" x2="499.88" y2="153.05" stroke="#000" stroke-width="0.8" stroke-linecap="round"/>
<line x1="499.88" y1="153.05" x2="494.1" y2="155.43" stroke="#000" stroke-width="0.8" stroke-linecap="round"/>
<line x1="494.1" y1="155.43" x2="495.94" y2="161.05" stroke="#000" stroke-width="1.52" stroke-linecap="round"/>
<text class="r" x="500.37" y="155.68" font-size="3.1" text-anchor="start" fill="#222" >O</text>
<line x1="500.12" y1="146.55" x2="505.04" y2="143.11" stroke="#000" stroke-width="1.52" stroke-linecap="round"/>
<line x1="501.35" y1="137.8" x2="508.73" y2="147.8" stroke="#000" stroke-width="0.8800000000000001" stroke-linecap="round"/>
<line x1="505.04" y1="143.11" x2="508.61" y2="140.49" stroke="#000" stroke-width="0.8800000000000001" stroke-linecap="round"/>
<text class="r" x="509.22" y="141.11" font-size="3.1" text-anchor="start" fill="#222" >OH</text>
<polyline points="448.84,182 445.12,176.7 435.91,178.56 432.1,176.7" stroke="#000" stroke-width="0.65" fill="none" stroke-linejoin="round"/>
<polyline points="432.1,176.7 434.24,181.81 443.26,179.95 448.84,182" stroke="#000" stroke-width="1.35" fill="none" stroke-linejoin="round" stroke-linecap="round"/>
<line x1="432.1" y1="176.7" x2="430.1" y2="178.5" stroke="#000" stroke-width="0.5" />
<text class="r" x="430.1" y="179.89" font-size="3.0" text-anchor="end" fill="#222" stroke="#222" stroke-width="0.08">HO</text>
<line x1="434.24" y1="181.81" x2="431.24" y2="182.62" stroke="#000" stroke-width="0.5" />
<text class="r" x="431.24" y="184.11" font-size="3.0" text-anchor="end" fill="#222" stroke="#222" stroke-width="0.08">HO</text>
<line x1="443.26" y1="179.95" x2="445.06" y2="184.15" stroke="#000" stroke-width="0.5" />
<text class="r" x="444.26" y="186.94" font-size="3.0" text-anchor="start" fill="#222" stroke="#222" stroke-width="0.08">OH</text>
<line x1="435.91" y1="178.56" x2="436.91" y2="175.96" stroke="#000" stroke-width="0.45" />
<line x1="448.84" y1="182" x2="450.04" y2="178.8" stroke="#000" stroke-width="0.5" />
<text class="r" x="449.8" y="179" font-size="2.9" text-anchor="start" fill="#444" >O</text>
<polyline points="494,188.3 490,182.6 480.1,184.6 476,182.6" stroke="#000" stroke-width="0.65" fill="none" stroke-linejoin="round"/>
<polyline points="476,182.6 478.3,188.1 488,186.1 494,188.3" stroke="#000" stroke-width="1.35" fill="none" stroke-linejoin="round" stroke-linecap="round"/>
<line x1="476" y1="182.6" x2="470" y2="184.2" stroke="#000" stroke-width="0.5" />
<text class="r" x="469.6" y="185.49" font-size="3.0" text-anchor="end" fill="#222" stroke="#222" stroke-width="0.08">O</text>
<polyline points="490,182.6 494,182.2 496.2,180" stroke="#000" stroke-width="0.5" fill="none" />
<text class="r" x="496.5" y="180.39" font-size="3.0" text-anchor="start" fill="#222" stroke="#222" stroke-width="0.08">OH</text>
<line x1="494" y1="188.3" x2="495.6" y2="186.7" stroke="#000" stroke-width="0.5" />
<text class="r" x="495.6" y="187.39" font-size="3.0" text-anchor="start" fill="#222" stroke="#222" stroke-width="0.08">OH</text>
<line x1="488" y1="186.1" x2="489.2" y2="188.3" stroke="#000" stroke-width="0.5" />
<text class="r" x="488.6" y="190.29" font-size="3.0" text-anchor="start" fill="#222" stroke="#222" stroke-width="0.08">OH</text>
<text class="r" x="477.9" y="188.89" font-size="3.0" text-anchor="end" fill="#222" stroke="#222" stroke-width="0.08">HO</text>
<polyline points="439.9,168.9 499,211.1 528.4,145.7" stroke="#111" stroke-width="0.8" fill="none" />
<line x1="470.5" y1="211.1" x2="499" y2="211.1" stroke="#222" stroke-width="1.1" />
<polyline points="473.36,208.68 469.7,211.1 473.36,213.52" stroke="#222" stroke-width="1.1" fill="none" stroke-linejoin="miter"/>
<line x1="493" y1="171.1" x2="446.4" y2="207.8" stroke="#111" stroke-width="0.75" />
<line x1="419.7" y1="207.8" x2="446.8" y2="207.8" stroke="#222" stroke-width="1.1" />
<polyline points="422.56,205.38 418.9,207.8 422.56,210.22" stroke="#222" stroke-width="1.1" fill="none" stroke-linejoin="miter"/>
<text class="r" x="418.9" y="203.52" font-size="4.9" text-anchor="start" fill="#333" stroke="#333" stroke-width="0.14">m/z</text>
<text class="r" x="431.7" y="203.58" font-size="5.1" text-anchor="start" fill="#333" stroke="#333" stroke-width="0.14">485.2890</text>
<text class="r" x="457" y="208.62" font-size="4.9" text-anchor="start" fill="#333" stroke="#333" stroke-width="0.14">m/z</text>
<text class="r" x="468.3" y="208.75" font-size="5.3" text-anchor="start" fill="#333" stroke="#333" stroke-width="0.14">651.0512</text>
</g>
<g id="panelP">
<text class="r" x="0.6" y="248" font-weight="bold" fill="#000"><tspan font-size="8.6" stroke="#000" stroke-width="0.25">P</tspan><tspan font-size="6.2" stroke="#000" stroke-width="0.2">(M20)</tspan></text>
<text class="s" transform="translate(24.7,248) scale(0.89,1)" font-size="5.0" text-anchor="start" fill="#222" stroke="#222" stroke-width="0.12">387.2538</text>
<line x1="22.6" y1="252.2" x2="22.6" y2="349.5" stroke="#777" stroke-width="0.7" />
<path d="M22.6 349.5h-1.2M22.6 339.77h-0.7M22.6 330.04h-0.7M22.6 320.31h-0.7M22.6 310.58h-0.7M22.6 300.85h-1.2M22.6 291.12h-0.7M22.6 281.39h-0.7M22.6 271.66h-0.7M22.6 261.93h-0.7M22.6 252.2h-1.2" stroke="#777" stroke-width="0.4" fill="none"/>
<line x1="22.1" y1="349.5" x2="177.7" y2="349.5" stroke="#222" stroke-width="0.7" />
<line x1="28.3" y1="349.5" x2="28.3" y2="350.9" stroke="#222" stroke-width="0.5" />
<text class="s" transform="translate(28.3,357.54) scale(0.75,1)" font-size="5.4" text-anchor="middle" fill="#111" stroke="#111" stroke-width="0.12">400</text>
<line x1="44.85" y1="349.5" x2="44.85" y2="350.9" stroke="#222" stroke-width="0.5" />
<text class="s" transform="translate(44.85,357.54) scale(0.75,1)" font-size="5.4" text-anchor="middle" fill="#111" stroke="#111" stroke-width="0.12">450</text>
<line x1="61.4" y1="349.5" x2="61.4" y2="350.9" stroke="#222" stroke-width="0.5" />
<text class="s" transform="translate(61.4,357.54) scale(0.75,1)" font-size="5.4" text-anchor="middle" fill="#111" stroke="#111" stroke-width="0.12">500</text>
<line x1="77.95" y1="349.5" x2="77.95" y2="350.9" stroke="#222" stroke-width="0.5" />
<text class="s" transform="translate(77.95,357.54) scale(0.75,1)" font-size="5.4" text-anchor="middle" fill="#111" stroke="#111" stroke-width="0.12">550</text>
<line x1="94.5" y1="349.5" x2="94.5" y2="350.9" stroke="#222" stroke-width="0.5" />
<text class="s" transform="translate(94.5,357.54) scale(0.75,1)" font-size="5.4" text-anchor="middle" fill="#111" stroke="#111" stroke-width="0.12">600</text>
<line x1="111.05" y1="349.5" x2="111.05" y2="350.9" stroke="#222" stroke-width="0.5" />
<text class="s" transform="translate(111.05,357.54) scale(0.75,1)" font-size="5.4" text-anchor="middle" fill="#111" stroke="#111" stroke-width="0.12">650</text>
<line x1="127.6" y1="349.5" x2="127.6" y2="350.9" stroke="#222" stroke-width="0.5" />
<text class="s" transform="translate(127.6,357.54) scale(0.75,1)" font-size="5.4" text-anchor="middle" fill="#111" stroke="#111" stroke-width="0.12">700</text>
<line x1="144.15" y1="349.5" x2="144.15" y2="350.9" stroke="#222" stroke-width="0.5" />
<text class="s" transform="translate(144.15,357.54) scale(0.75,1)" font-size="5.4" text-anchor="middle" fill="#111" stroke="#111" stroke-width="0.12">750</text>
<line x1="160.7" y1="349.5" x2="160.7" y2="350.9" stroke="#222" stroke-width="0.5" />
<text class="s" transform="translate(160.7,357.54) scale(0.75,1)" font-size="5.4" text-anchor="middle" fill="#111" stroke="#111" stroke-width="0.12">800</text>
<line x1="177.25" y1="349.5" x2="177.25" y2="350.9" stroke="#222" stroke-width="0.5" />
<text class="s" transform="translate(177.25,357.54) scale(0.75,1)" font-size="5.4" text-anchor="middle" fill="#111" stroke="#111" stroke-width="0.12">850</text>
<path d="M24.99 349.5v0.8M28.3 349.5v0.8M31.61 349.5v0.8M34.92 349.5v0.8M38.23 349.5v0.8M41.54 349.5v0.8M44.85 349.5v0.8M48.16 349.5v0.8M51.47 349.5v0.8M54.78 349.5v0.8M58.09 349.5v0.8M61.4 349.5v0.8M64.71 349.5v0.8M68.02 349.5v0.8M71.33 349.5v0.8M74.64 349.5v0.8M77.95 349.5v0.8M81.26 349.5v0.8M84.57 349.5v0.8M87.88 349.5v0.8M91.19 349.5v0.8M94.5 349.5v0.8M97.81 349.5v0.8M101.12 349.5v0.8M104.43 349.5v0.8M107.74 349.5v0.8M111.05 349.5v0.8M114.36 349.5v0.8M117.67 349.5v0.8M120.98 349.5v0.8M124.29 349.5v0.8M127.6 349.5v0.8M130.91 349.5v0.8M134.22 349.5v0.8M137.53 349.5v0.8M140.84 349.5v0.8M144.15 349.5v0.8M147.46 349.5v0.8M150.77 349.5v0.8M154.08 349.5v0.8M157.39 349.5v0.8M160.7 349.5v0.8M164.01 349.5v0.8M167.32 349.5v0.8M170.63 349.5v0.8M173.94 349.5v0.8" stroke="#333" stroke-width="0.35" fill="none"/>
<path d="M24.6 349.5v-1.8M27.91 349.5v-0.5M30.27 349.5v-0.6M32.55 349.5v-0.4M34.64 349.5v-0.6M38.07 349.5v-0.4M40.33 349.5v-0.5M43.7 349.5v-0.3M45.24 349.5v-0.6M48.05 349.5v-1.3M51.33 349.5v-1.3M54.1 349.5v-1M56.85 349.5v-1.3M59.4 349.5v-0.8M62.6 349.5v-0.5M63.91 349.5v-0.3M66.7 349.5v-0.3M69.53 349.5v-1.8M72.34 349.5v-0.3M75 349.5v-0.8M76.24 349.5v-0.5M79.58 349.5v-1.3M81.14 349.5v-0.4M83.21 349.5v-1.8M84.67 349.5v-0.3M86.25 349.5v-0.8M89.73 349.5v-0.3M91.46 349.5v-0.5M94.09 349.5v-0.5M96.28 349.5v-0.5M98.6 349.5v-1.3M100.72 349.5v-1.3M102.53 349.5v-0.3M105.79 349.5v-1.8M108.53 349.5v-1.8M109.9 349.5v-1M112.11 349.5v-0.5M113.68 349.5v-1M116.76 349.5v-1M119.11 349.5v-0.8M121.75 349.5v-0.3M125.3 349.5v-0.5M128.78 349.5v-0.5M132.06 349.5v-0.5M134.88 349.5v-1.3M137.87 349.5v-1M139.17 349.5v-0.5M140.41 349.5v-0.8M143.58 349.5v-0.6M144.85 349.5v-0.3M146.99 349.5v-0.5M149.41 349.5v-0.6M151.52 349.5v-0.3M154.15 349.5v-1M156.09 349.5v-1.3M157.58 349.5v-1M160.91 349.5v-1.3M162.18 349.5v-0.3M165.62 349.5v-0.8M169.06 349.5v-0.3M171.09 349.5v-1M173.51 349.5v-1.3" stroke="#555" stroke-width="0.35" fill="none"/>
<text class="s" transform="translate(180.5,351.53) scale(0.8,1)" font-size="4.8" text-anchor="start" fill="#111" stroke="#111" stroke-width="0.12">m/z</text>
<text class="s" transform="translate(20.4,254.52) scale(0.85,1)" font-size="5.6" text-anchor="end" fill="#111" stroke="#111" stroke-width="0.12">100</text>
<text class="s" transform="translate(20.4,351.52) scale(0.85,1)" font-size="5.6" text-anchor="end" fill="#111" stroke="#111" stroke-width="0.12">0</text>
<text class="s" font-size="5" fill="#222" stroke="#222" stroke-width="0.1" text-anchor="middle" transform="translate(21.6,301.2) rotate(-90) scale(0.8,1)">%</text>
<line x1="24.2" y1="252" x2="24.2" y2="349.5" stroke="#777" stroke-width="0.7" />
<line x1="24" y1="251.6" x2="27" y2="247.6" stroke="#555" stroke-width="0.4" />
<line x1="24.8" y1="325.2" x2="24.8" y2="349.5" stroke="#555" stroke-width="0.6" />
<line x1="24.8" y1="325" x2="27.2" y2="321.6" stroke="#555" stroke-width="0.4" />
<line x1="38.9" y1="339.8" x2="38.9" y2="349.5" stroke="#444" stroke-width="0.6" />
<line x1="43.3" y1="346" x2="43.3" y2="349.5" stroke="#777" stroke-width="0.5" />
<line x1="46.6" y1="337" x2="46.6" y2="349.5" stroke="#999" stroke-width="0.7" />
<line x1="52.1" y1="345.3" x2="52.1" y2="349.5" stroke="#777" stroke-width="0.5" />
<line x1="56.7" y1="345.3" x2="56.7" y2="349.5" stroke="#999" stroke-width="0.5" />
<line x1="62" y1="347" x2="62" y2="349.5" stroke="#999" stroke-width="0.5" />
<line x1="67.6" y1="344.4" x2="67.6" y2="349.5" stroke="#999" stroke-width="0.5" />
<line x1="71" y1="347" x2="71" y2="349.5" stroke="#999" stroke-width="0.5" />
<line x1="78.6" y1="347.3" x2="78.6" y2="349.5" stroke="#aaa" stroke-width="0.5" />
<line x1="153.1" y1="327" x2="153.1" y2="349.5" stroke="#888" stroke-width="0.7" />
<line x1="154" y1="338" x2="154" y2="349.5" stroke="#333" stroke-width="0.6" />
<line x1="160.4" y1="342.2" x2="160.4" y2="349.5" stroke="#999" stroke-width="0.6" />
<line x1="161.4" y1="346.5" x2="161.4" y2="349.5" stroke="#999" stroke-width="0.5" />
<text class="s" transform="translate(24.5,321.5) scale(0.89,1)" font-size="5.0" text-anchor="start" fill="#222" stroke="#222" stroke-width="0.12">388.2569</text>
<text class="s" transform="translate(37.8,335.7) scale(0.89,1)" font-size="5.0" text-anchor="start" fill="#222" stroke="#222" stroke-width="0.12">455.2400</text>
<text class="s" transform="translate(143.9,325.1) scale(0.89,1)" font-size="5.0" text-anchor="start" fill="#222" stroke="#222" stroke-width="0.12">775.5131</text>
<text class="s" transform="translate(153.8,333.4) scale(0.89,1)" font-size="5.0" text-anchor="start" fill="#222" stroke="#222" stroke-width="0.12">776.5164</text>
<line x1="154" y1="337.8" x2="155.4" y2="333.8" stroke="#555" stroke-width="0.4" />
<polyline points="50.7,250 47.7,250 47.7,304.6 50.7,304.6" stroke="#333" stroke-width="0.95" fill="none" />
<polyline points="133.7,250 137.1,250 137.1,304.4 133.7,304.4" stroke="#333" stroke-width="0.95" fill="none" />
<line x1="135.1" y1="275" x2="141.3" y2="275" stroke="#222" stroke-width="0.8" />
<text class="r" x="141.8" y="276.19" font-size="2.4" text-anchor="start" fill="#666" stroke="#666" stroke-width="0.14">C<tspan dy="0.7" font-size="1.9">6</tspan><tspan dy="-0.7">H</tspan><tspan dy="0.7" font-size="1.9">9</tspan><tspan dy="-0.7">O</tspan><tspan dy="0.7" font-size="1.9">5</tspan></text>
<line x1="85.7" y1="279.85" x2="91.03" y2="282.82" stroke="#000" stroke-width="0.8" stroke-linecap="round"/>
<line x1="91.03" y1="282.82" x2="91.03" y2="288.78" stroke="#000" stroke-width="0.8" stroke-linecap="round"/>
<line x1="91.03" y1="288.78" x2="85.7" y2="291.75" stroke="#000" stroke-width="0.8" stroke-linecap="round"/>
<line x1="85.7" y1="291.75" x2="80.37" y2="288.78" stroke="#000" stroke-width="0.8" stroke-linecap="round"/>
<line x1="80.37" y1="288.78" x2="80.37" y2="282.82" stroke="#000" stroke-width="0.8" stroke-linecap="round"/>
<line x1="80.37" y1="282.82" x2="85.7" y2="279.85" stroke="#000" stroke-width="0.8" stroke-linecap="round"/>
<line x1="91.03" y1="282.82" x2="96.35" y2="279.85" stroke="#000" stroke-width="0.8" stroke-linecap="round"/>
<line x1="96.35" y1="279.85" x2="101.68" y2="282.82" stroke="#000" stroke-width="0.8" stroke-linecap="round"/>
<line x1="101.68" y1="282.82" x2="101.68" y2="288.78" stroke="#000" stroke-width="0.8" stroke-linecap="round"/>
<line x1="101.68" y1="288.78" x2="96.35" y2="291.75" stroke="#000" stroke-width="0.8" stroke-linecap="round"/>
<line x1="96.35" y1="291.75" x2="91.03" y2="288.78" stroke="#000" stroke-width="0.8" stroke-linecap="round"/>
<line x1="96.35" y1="279.85" x2="96.35" y2="273.9" stroke="#000" stroke-width="0.8" stroke-linecap="round"/>
<line x1="96.35" y1="273.9" x2="101.68" y2="270.93" stroke="#000" stroke-width="0.8" stroke-linecap="round"/>
<line x1="101.68" y1="270.93" x2="107" y2="273.9" stroke="#000" stroke-width="0.8" stroke-linecap="round"/>
<line x1="107" y1="273.9" x2="107" y2="279.85" stroke="#000" stroke-width="0.8" stroke-linecap="round"/>
<line x1="107" y1="279.85" x2="101.68" y2="282.82" stroke="#000" stroke-width="0.8" stroke-linecap="round"/>
<line x1="107" y1="273.9" x2="113.25" y2="271.22" stroke="#000" stroke-width="0.8" stroke-linecap="round"/>
<line x1="113.25" y1="271.22" x2="116.45" y2="276.4" stroke="#000" stroke-width="0.8" stroke-linecap="round"/>
<line x1="116.45" y1="276.4" x2="113.07" y2="280.74" stroke="#000" stroke-width="0.8" stroke-linecap="round"/>
<line x1="113.07" y1="280.74" x2="107" y2="279.85" stroke="#000" stroke-width="0.8" stroke-linecap="round"/>
<polygon points="91.03,282.82 90.74,275.92 96.35,279.85" fill="none" stroke="#000" stroke-width="1.14" stroke-linejoin="round"/>
<line x1="107" y1="273.19" x2="107" y2="267.95" stroke="#000" stroke-width="1.52" stroke-linecap="round"/>
<line x1="107" y1="281.16" x2="107" y2="285.09" stroke="#000" stroke-width="1.52" stroke-linecap="round"/>
<line x1="116.45" y1="276.4" x2="120.88" y2="276.76" stroke="#000" stroke-width="1.6720000000000002" stroke-linecap="round"/>
<text class="r" x="121.68" y="278.18" font-size="3.0250000000000004" text-anchor="start" fill="#222" >OH</text>
<line x1="85.7" y1="291.75" x2="82.93" y2="296.51" stroke="#000" stroke-width="0.8" stroke-linecap="round"/>
<line x1="85.7" y1="291.75" x2="88.47" y2="296.51" stroke="#000" stroke-width="0.8" stroke-linecap="round"/>
<line x1="80.37" y1="288.78" x2="76.19" y2="290.92" stroke="#000" stroke-width="1.6720000000000002" stroke-linecap="round"/>
<line x1="96.35" y1="291.75" x2="96.35" y2="296.03" stroke="#000" stroke-width="1.52" stroke-linecap="round"/>
<line x1="113.25" y1="271.22" x2="118.05" y2="268.55" stroke="#000" stroke-width="0.8" stroke-linecap="round"/>
<line x1="118.05" y1="268.55" x2="114.54" y2="263.31" stroke="#000" stroke-width="0.8" stroke-linecap="round"/>
<line x1="114.54" y1="263.31" x2="118.05" y2="258.67" stroke="#000" stroke-width="0.8" stroke-linecap="round"/>
<line x1="118.05" y1="258.67" x2="124.08" y2="260.1" stroke="#000" stroke-width="0.8" stroke-linecap="round"/>
<line x1="124.08" y1="260.1" x2="123.83" y2="266.28" stroke="#000" stroke-width="0.8" stroke-linecap="round"/>
<line x1="123.83" y1="266.28" x2="118.05" y2="268.55" stroke="#000" stroke-width="0.8" stroke-linecap="round"/>
<line x1="118.05" y1="268.55" x2="119.89" y2="273.9" stroke="#000" stroke-width="1.52" stroke-linecap="round"/>
<text class="r" x="124.32" y="268.78" font-size="3.0250000000000004" text-anchor="start" fill="#222" >O</text>
<line x1="124.08" y1="260.1" x2="129" y2="256.82" stroke="#000" stroke-width="1.52" stroke-linecap="round"/>
<line x1="125.31" y1="251.77" x2="132.69" y2="261.29" stroke="#000" stroke-width="0.8800000000000001" stroke-linecap="round"/>
<line x1="129" y1="256.82" x2="132.56" y2="254.32" stroke="#000" stroke-width="0.8800000000000001" stroke-linecap="round"/>
<text class="r" x="133.18" y="254.92" font-size="3.0250000000000004" text-anchor="start" fill="#222" >OH</text>
<polyline points="72.88,294.97 69.04,289.5 59.54,291.42 55.6,289.5" stroke="#000" stroke-width="0.65" fill="none" stroke-linejoin="round"/>
<polyline points="55.6,289.5 57.81,294.78 67.12,292.86 72.88,294.97" stroke="#000" stroke-width="1.35" fill="none" stroke-linejoin="round" stroke-linecap="round"/>
<line x1="55.6" y1="289.5" x2="53.6" y2="291.3" stroke="#000" stroke-width="0.5" />
<text class="r" x="53.6" y="292.69" font-size="3.0" text-anchor="end" fill="#222" stroke="#222" stroke-width="0.08">HO</text>
<line x1="57.81" y1="294.78" x2="54.81" y2="295.58" stroke="#000" stroke-width="0.5" />
<text class="r" x="54.81" y="297.07" font-size="3.0" text-anchor="end" fill="#222" stroke="#222" stroke-width="0.08">HO</text>
<line x1="67.12" y1="292.86" x2="68.92" y2="297.06" stroke="#000" stroke-width="0.5" />
<text class="r" x="68.12" y="299.85" font-size="3.0" text-anchor="start" fill="#222" stroke="#222" stroke-width="0.08">OH</text>
<line x1="59.54" y1="291.42" x2="60.54" y2="288.82" stroke="#000" stroke-width="0.45" />
<line x1="72.88" y1="294.97" x2="74.08" y2="291.77" stroke="#000" stroke-width="0.5" />
<text class="r" x="73.6" y="292.4" font-size="2.9" text-anchor="start" fill="#444" >O</text>
<polyline points="117.96,300.26 114.48,295.3 105.87,297.04 102.3,295.3" stroke="#000" stroke-width="0.65" fill="none" stroke-linejoin="round"/>
<polyline points="102.3,295.3 104.3,300.09 112.74,298.35 117.96,300.26" stroke="#000" stroke-width="1.35" fill="none" stroke-linejoin="round" stroke-linecap="round"/>
<line x1="102.3" y1="295.3" x2="96.3" y2="296.9" stroke="#000" stroke-width="0.5" />
<text class="r" x="95.9" y="298.19" font-size="3.0" text-anchor="end" fill="#222" stroke="#222" stroke-width="0.08">O</text>
<polyline points="114.48,295.3 118.48,294.9 120.68,292.7" stroke="#000" stroke-width="0.5" fill="none" />
<text class="r" x="120.98" y="293.09" font-size="3.0" text-anchor="start" fill="#222" stroke="#222" stroke-width="0.08">OH</text>
<line x1="117.96" y1="300.26" x2="119.56" y2="298.66" stroke="#000" stroke-width="0.5" />
<text class="r" x="119.56" y="299.35" font-size="3.0" text-anchor="start" fill="#222" stroke="#222" stroke-width="0.08">OH</text>
<line x1="112.74" y1="298.35" x2="113.94" y2="300.55" stroke="#000" stroke-width="0.5" />
<text class="r" x="113.34" y="302.54" font-size="3.0" text-anchor="start" fill="#222" stroke="#222" stroke-width="0.08">OH</text>
<text class="r" x="103.9" y="300.88" font-size="3.0" text-anchor="end" fill="#222" stroke="#222" stroke-width="0.08">HO</text>
<polyline points="110.8,262.1 138.5,264.8 78.5,312.9" stroke="#111" stroke-width="0.85" fill="none" />
<line x1="68.6" y1="283.8" x2="78.5" y2="312.9" stroke="#111" stroke-width="0.8" />
<line x1="27.7" y1="312.9" x2="78.8" y2="312.9" stroke="#222" stroke-width="1.1" />
<polyline points="30.56,310.48 26.9,312.9 30.56,315.32" stroke="#222" stroke-width="1.1" fill="none" stroke-linejoin="miter"/>
<text class="r" x="30.8" y="310.32" font-size="4.9" text-anchor="start" fill="#333" stroke="#333" stroke-width="0.14">-2H m/z</text>
<text class="r" x="52.1" y="310.38" font-size="5.1" text-anchor="start" fill="#333" stroke="#333" stroke-width="0.14">387.2538</text>
</g>
<g id="panelQ">
<text class="r" x="192.2" y="247.8" font-weight="bold" fill="#000"><tspan font-size="8.6" stroke="#000" stroke-width="0.25">Q</tspan><tspan font-size="6.2" stroke="#000" stroke-width="0.2">(M21)</tspan></text>
<line x1="198.3" y1="249.9" x2="198.3" y2="349.5" stroke="#777" stroke-width="0.7" />
<path d="M198.3 349.5h-1.2M198.3 339.54h-0.7M198.3 329.58h-0.7M198.3 319.62h-0.7M198.3 309.66h-0.7M198.3 299.7h-1.2M198.3 289.74h-0.7M198.3 279.78h-0.7M198.3 269.82h-0.7M198.3 259.86h-0.7M198.3 249.9h-1.2" stroke="#777" stroke-width="0.4" fill="none"/>
<line x1="197.8" y1="349.5" x2="356.3" y2="349.5" stroke="#222" stroke-width="0.7" />
<line x1="198.3" y1="349.5" x2="198.3" y2="350.9" stroke="#222" stroke-width="0.5" />
<text class="s" transform="translate(198.3,357.24) scale(0.75,1)" font-size="5.4" text-anchor="middle" fill="#111" stroke="#111" stroke-width="0.12">100</text>
<line x1="218.45" y1="349.5" x2="218.45" y2="350.9" stroke="#222" stroke-width="0.5" />
<text class="s" transform="translate(218.45,357.24) scale(0.75,1)" font-size="5.4" text-anchor="middle" fill="#111" stroke="#111" stroke-width="0.12">200</text>
<line x1="238.6" y1="349.5" x2="238.6" y2="350.9" stroke="#222" stroke-width="0.5" />
<text class="s" transform="translate(238.6,357.24) scale(0.75,1)" font-size="5.4" text-anchor="middle" fill="#111" stroke="#111" stroke-width="0.12">300</text>
<line x1="258.75" y1="349.5" x2="258.75" y2="350.9" stroke="#222" stroke-width="0.5" />
<text class="s" transform="translate(258.75,357.24) scale(0.75,1)" font-size="5.4" text-anchor="middle" fill="#111" stroke="#111" stroke-width="0.12">400</text>
<line x1="278.9" y1="349.5" x2="278.9" y2="350.9" stroke="#222" stroke-width="0.5" />
<text class="s" transform="translate(278.9,357.24) scale(0.75,1)" font-size="5.4" text-anchor="middle" fill="#111" stroke="#111" stroke-width="0.12">500</text>
<line x1="299.05" y1="349.5" x2="299.05" y2="350.9" stroke="#222" stroke-width="0.5" />
<text class="s" transform="translate(299.05,357.24) scale(0.75,1)" font-size="5.4" text-anchor="middle" fill="#111" stroke="#111" stroke-width="0.12">600</text>
<line x1="319.2" y1="349.5" x2="319.2" y2="350.9" stroke="#222" stroke-width="0.5" />
<text class="s" transform="translate(319.2,357.24) scale(0.75,1)" font-size="5.4" text-anchor="middle" fill="#111" stroke="#111" stroke-width="0.12">700</text>
<line x1="339.35" y1="349.5" x2="339.35" y2="350.9" stroke="#222" stroke-width="0.5" />
<text class="s" transform="translate(339.35,357.24) scale(0.75,1)" font-size="5.4" text-anchor="middle" fill="#111" stroke="#111" stroke-width="0.12">800</text>
<path d="M202.33 349.5v0.8M206.36 349.5v0.8M210.39 349.5v0.8M214.42 349.5v0.8M218.45 349.5v0.8M222.48 349.5v0.8M226.51 349.5v0.8M230.54 349.5v0.8M234.57 349.5v0.8M238.6 349.5v0.8M242.63 349.5v0.8M246.66 349.5v0.8M250.69 349.5v0.8M254.72 349.5v0.8M258.75 349.5v0.8M262.78 349.5v0.8M266.81 349.5v0.8M270.84 349.5v0.8M274.87 349.5v0.8M278.9 349.5v0.8M282.93 349.5v0.8M286.96 349.5v0.8M290.99 349.5v0.8M295.02 349.5v0.8M299.05 349.5v0.8M303.08 349.5v0.8M307.11 349.5v0.8M311.14 349.5v0.8M315.17 349.5v0.8M319.2 349.5v0.8M323.23 349.5v0.8M327.26 349.5v0.8M331.29 349.5v0.8M335.32 349.5v0.8M339.35 349.5v0.8M343.38 349.5v0.8M347.41 349.5v0.8M351.44 349.5v0.8M355.47 349.5v0.8" stroke="#333" stroke-width="0.35" fill="none"/>
<path d="M200.3 349.5v-0.5M203.62 349.5v-1.8M205.11 349.5v-0.8M207.32 349.5v-0.3M210.47 349.5v-1.8M213.63 349.5v-0.8M215.46 349.5v-1.3M217.12 349.5v-0.8M220.61 349.5v-0.5M222.68 349.5v-1.8M225.18 349.5v-0.4M228.78 349.5v-1.8M230.96 349.5v-0.8M234.02 349.5v-0.6M235.74 349.5v-0.4M239.07 349.5v-0.8M240.47 349.5v-0.4M243.37 349.5v-0.4M245.66 349.5v-1.8M247.68 349.5v-1M249.89 349.5v-0.8M253.31 349.5v-0.5M256.6 349.5v-0.5M259.17 349.5v-1.8M262.16 349.5v-1.8M265.71 349.5v-1.3M267.48 349.5v-1M270.83 349.5v-0.8M273.81 349.5v-0.6M275.82 349.5v-1M278.73 349.5v-0.5M280.83 349.5v-0.6M282.61 349.5v-1.3M284.71 349.5v-0.5M288.14 349.5v-0.4M290.71 349.5v-1.8M293.71 349.5v-0.6M294.97 349.5v-0.8M297.22 349.5v-1.8M299.51 349.5v-0.6M301.58 349.5v-1M303.64 349.5v-0.8M306.73 349.5v-0.4M310.08 349.5v-1.8M313.27 349.5v-0.3M315.58 349.5v-0.4M317.77 349.5v-0.4M321.08 349.5v-0.6M324.46 349.5v-1.8M327.26 349.5v-1.3M328.75 349.5v-1.3M329.98 349.5v-1.3M332.56 349.5v-1.8M336.08 349.5v-1.3M337.7 349.5v-0.8M340.04 349.5v-0.3M343.1 349.5v-0.5M344.59 349.5v-1.8M346.74 349.5v-0.8M349.91 349.5v-0.3M353.5 349.5v-0.8" stroke="#555" stroke-width="0.35" fill="none"/>
<text class="s" transform="translate(359,351.53) scale(0.8,1)" font-size="4.8" text-anchor="start" fill="#111" stroke="#111" stroke-width="0.12">m/z</text>
<text class="s" transform="translate(196.1,251.93) scale(0.8,1)" font-size="4.8" text-anchor="end" fill="#111" stroke="#111" stroke-width="0.12">100</text>
<text class="s" transform="translate(196.1,351.23) scale(0.8,1)" font-size="4.8" text-anchor="end" fill="#111" stroke="#111" stroke-width="0.12">0</text>
<text class="s" font-size="5" fill="#222" stroke="#222" stroke-width="0.1" text-anchor="middle" transform="translate(197.3,300.1) rotate(-90) scale(0.8,1)">%</text>
<line x1="260" y1="249.8" x2="260" y2="349.5" stroke="#cdcdcd" stroke-width="1.2" />
<line x1="259.9" y1="322.4" x2="259.9" y2="349.5" stroke="#111" stroke-width="0.9" />
<line x1="256.4" y1="346.2" x2="256.4" y2="349.5" stroke="#666" stroke-width="0.5" />
<line x1="257.7" y1="346.2" x2="257.7" y2="349.5" stroke="#666" stroke-width="0.5" />
<line x1="347.5" y1="347.5" x2="347.5" y2="349.5" stroke="#aaa" stroke-width="0.5" />
<text class="s" transform="translate(252.2,248.22) scale(0.88,1)" font-size="4.5" text-anchor="start" fill="#222" stroke="#222" stroke-width="0.12">405.2648</text>
<text class="s" transform="translate(260.6,319.22) scale(0.88,1)" font-size="4.5" text-anchor="start" fill="#222" stroke="#222" stroke-width="0.12">406.2677</text>
<polyline points="286.9,248.6 282.9,248.6 282.9,310.8 286.9,310.8" stroke="#333" stroke-width="1.2" fill="none" />
<polyline points="345.2,248.6 349.2,248.6 349.2,310.8 345.2,310.8" stroke="#222" stroke-width="1.1" fill="none" />
<line x1="345.6" y1="278.5" x2="352.9" y2="278.5" stroke="#222" stroke-width="0.8" />
<text class="r" x="354" y="279.79" font-size="2.4" text-anchor="start" fill="#666" stroke="#666" stroke-width="0.14">C<tspan dy="0.7" font-size="1.9">6</tspan><tspan dy="-0.7">H</tspan><tspan dy="0.7" font-size="1.9">9</tspan><tspan dy="-0.7">O</tspan><tspan dy="0.7" font-size="1.9">5</tspan></text>
<line x1="291.2" y1="282.34" x2="297.14" y2="285.77" stroke="#000" stroke-width="0.8" stroke-linecap="round"/>
<line x1="297.14" y1="285.77" x2="297.14" y2="292.63" stroke="#000" stroke-width="0.8" stroke-linecap="round"/>
<line x1="297.14" y1="292.63" x2="291.2" y2="296.06" stroke="#000" stroke-width="0.8" stroke-linecap="round"/>
<line x1="291.2" y1="296.06" x2="285.26" y2="292.63" stroke="#000" stroke-width="0.8" stroke-linecap="round"/>
<line x1="285.26" y1="292.63" x2="285.26" y2="285.77" stroke="#000" stroke-width="0.8" stroke-linecap="round"/>
<line x1="285.26" y1="285.77" x2="291.2" y2="282.34" stroke="#000" stroke-width="0.8" stroke-linecap="round"/>
<line x1="297.14" y1="285.77" x2="303.08" y2="282.34" stroke="#000" stroke-width="0.8" stroke-linecap="round"/>
<line x1="303.08" y1="282.34" x2="309.02" y2="285.77" stroke="#000" stroke-width="0.8" stroke-linecap="round"/>
<line x1="309.02" y1="285.77" x2="309.02" y2="292.63" stroke="#000" stroke-width="0.8" stroke-linecap="round"/>
<line x1="309.02" y1="292.63" x2="303.08" y2="296.06" stroke="#000" stroke-width="0.8" stroke-linecap="round"/>
<line x1="303.08" y1="296.06" x2="297.14" y2="292.63" stroke="#000" stroke-width="0.8" stroke-linecap="round"/>
<line x1="303.08" y1="282.34" x2="303.08" y2="275.48" stroke="#000" stroke-width="0.8" stroke-linecap="round"/>
<line x1="303.08" y1="275.48" x2="309.02" y2="272.05" stroke="#000" stroke-width="0.8" stroke-linecap="round"/>
<line x1="309.02" y1="272.05" x2="314.96" y2="275.48" stroke="#000" stroke-width="0.8" stroke-linecap="round"/>
<line x1="314.96" y1="275.48" x2="314.96" y2="282.34" stroke="#000" stroke-width="0.8" stroke-linecap="round"/>
<line x1="314.96" y1="282.34" x2="309.02" y2="285.77" stroke="#000" stroke-width="0.8" stroke-linecap="round"/>
<line x1="314.96" y1="275.48" x2="321.93" y2="272.39" stroke="#000" stroke-width="0.8" stroke-linecap="round"/>
<line x1="321.93" y1="272.39" x2="325.5" y2="278.36" stroke="#000" stroke-width="0.8" stroke-linecap="round"/>
<line x1="325.5" y1="278.36" x2="321.73" y2="283.37" stroke="#000" stroke-width="0.8" stroke-linecap="round"/>
<line x1="321.73" y1="283.37" x2="314.96" y2="282.34" stroke="#000" stroke-width="0.8" stroke-linecap="round"/>
<polygon points="297.14,285.77 296.83,277.81 303.08,282.34" fill="none" stroke="#000" stroke-width="1.14" stroke-linejoin="round"/>
<line x1="314.96" y1="274.66" x2="314.96" y2="268.62" stroke="#000" stroke-width="1.52" stroke-linecap="round"/>
<line x1="314.96" y1="283.85" x2="314.96" y2="288.38" stroke="#000" stroke-width="1.52" stroke-linecap="round"/>
<line x1="325.5" y1="278.36" x2="330.44" y2="278.77" stroke="#000" stroke-width="1.6720000000000002" stroke-linecap="round"/>
<text class="r" x="331.33" y="280.42" font-size="3.43" text-anchor="start" fill="#222" >OH</text>
<line x1="291.2" y1="296.06" x2="288.11" y2="301.55" stroke="#000" stroke-width="0.8" stroke-linecap="round"/>
<line x1="291.2" y1="296.06" x2="294.29" y2="301.55" stroke="#000" stroke-width="0.8" stroke-linecap="round"/>
<line x1="303.08" y1="296.06" x2="303.08" y2="301" stroke="#000" stroke-width="1.52" stroke-linecap="round"/>
<line x1="321.93" y1="272.39" x2="327.28" y2="270.33" stroke="#000" stroke-width="0.8" stroke-linecap="round"/>
<line x1="327.28" y1="270.33" x2="323.37" y2="264.3" stroke="#000" stroke-width="0.8" stroke-linecap="round"/>
<line x1="323.37" y1="264.3" x2="327.28" y2="258.95" stroke="#000" stroke-width="0.8" stroke-linecap="round"/>
<line x1="327.28" y1="258.95" x2="334.01" y2="260.59" stroke="#000" stroke-width="0.8" stroke-linecap="round"/>
<line x1="334.01" y1="260.59" x2="333.73" y2="267.73" stroke="#000" stroke-width="0.8" stroke-linecap="round"/>
<line x1="333.73" y1="267.73" x2="327.28" y2="270.33" stroke="#000" stroke-width="0.8" stroke-linecap="round"/>
<line x1="327.28" y1="270.33" x2="329.34" y2="276.51" stroke="#000" stroke-width="1.52" stroke-linecap="round"/>
<text class="r" x="334.28" y="270.61" font-size="3.43" text-anchor="start" fill="#222" >O</text>
<line x1="334.01" y1="260.59" x2="339.49" y2="256.82" stroke="#000" stroke-width="1.52" stroke-linecap="round"/>
<line x1="335.38" y1="250.99" x2="343.61" y2="261.97" stroke="#000" stroke-width="0.8800000000000001" stroke-linecap="round"/>
<line x1="339.49" y1="256.82" x2="343.47" y2="253.94" stroke="#000" stroke-width="0.8800000000000001" stroke-linecap="round"/>
<text class="r" x="344.16" y="254.63" font-size="3.43" text-anchor="start" fill="#222" >OH</text>
<polyline points="328.46,309.15 323.58,302.2 311.5,304.64 306.5,302.2" stroke="#000" stroke-width="0.65" fill="none" stroke-linejoin="round"/>
<polyline points="306.5,302.2 309.31,308.91 321.14,306.47 328.46,309.15" stroke="#000" stroke-width="1.35" fill="none" stroke-linejoin="round" stroke-linecap="round"/>
<line x1="306.5" y1="302.2" x2="300.5" y2="303.8" stroke="#000" stroke-width="0.5" />
<text class="r" x="300.1" y="305.09" font-size="3.0" text-anchor="end" fill="#222" stroke="#222" stroke-width="0.08">O</text>
<polyline points="323.58,302.2 327.58,301.8 329.78,299.6" stroke="#000" stroke-width="0.5" fill="none" />
<text class="r" x="330.08" y="299.99" font-size="3.0" text-anchor="start" fill="#222" stroke="#222" stroke-width="0.08">OH</text>
<line x1="328.46" y1="309.15" x2="330.06" y2="307.55" stroke="#000" stroke-width="0.5" />
<text class="r" x="330.06" y="308.24" font-size="3.0" text-anchor="start" fill="#222" stroke="#222" stroke-width="0.08">OH</text>
<line x1="321.14" y1="306.47" x2="322.34" y2="308.67" stroke="#000" stroke-width="0.5" />
<text class="r" x="321.74" y="310.66" font-size="3.0" text-anchor="start" fill="#222" stroke="#222" stroke-width="0.08">OH</text>
<text class="r" x="308.91" y="309.7" font-size="3.0" text-anchor="end" fill="#222" stroke="#222" stroke-width="0.08">HO</text>
<polyline points="290.9,306.3 343,267.6 347.4,250.2" stroke="#111" stroke-width="0.8" fill="none" />
<line x1="262.2" y1="306.3" x2="291.2" y2="306.3" stroke="#222" stroke-width="1.0" />
<polyline points="265.16,303.88 261.5,306.3 265.16,308.72" stroke="#222" stroke-width="0.9900000000000001" fill="none" stroke-linejoin="miter"/>
<text class="r" x="269.1" y="305.32" font-size="4.9" text-anchor="start" fill="#555" stroke="#555" stroke-width="0.14">-4H</text>
<text class="r" x="258.2" y="311.85" font-size="5.0" text-anchor="start" fill="#444" stroke="#444" stroke-width="0.14">m/z</text>
<text class="r" x="268" y="311.98" font-size="5.4" text-anchor="start" fill="#555" stroke="#555" stroke-width="0.14">405.2648</text>
</g>
<g id="panelR">
<text class="r" x="360.6" y="247.8" font-weight="bold" fill="#000"><tspan font-size="8.6" stroke="#000" stroke-width="0.25">R</tspan><tspan font-size="6.2" stroke="#000" stroke-width="0.2">(M22)</tspan></text>
<text class="s" transform="translate(386.2,247.5) scale(0.89,1)" font-size="5.0" text-anchor="start" fill="#222" stroke="#222" stroke-width="0.12">405.2639</text>
<line x1="376.9" y1="251.7" x2="376.9" y2="349.5" stroke="#777" stroke-width="0.7" />
<path d="M376.9 349.5h-1.2M376.9 339.72h-0.7M376.9 329.94h-0.7M376.9 320.16h-0.7M376.9 310.38h-0.7M376.9 300.6h-1.2M376.9 290.82h-0.7M376.9 281.04h-0.7M376.9 271.26h-0.7M376.9 261.48h-0.7M376.9 251.7h-1.2" stroke="#777" stroke-width="0.4" fill="none"/>
<line x1="376.4" y1="349.5" x2="537.8" y2="349.5" stroke="#222" stroke-width="0.7" />
<line x1="383.8" y1="349.5" x2="383.8" y2="350.9" stroke="#222" stroke-width="0.5" />
<text class="s" transform="translate(383.8,357.24) scale(0.75,1)" font-size="5.4" text-anchor="middle" fill="#111" stroke="#111" stroke-width="0.12">400</text>
<line x1="400.82" y1="349.5" x2="400.82" y2="350.9" stroke="#222" stroke-width="0.5" />
<text class="s" transform="translate(400.82,357.24) scale(0.75,1)" font-size="5.4" text-anchor="middle" fill="#111" stroke="#111" stroke-width="0.12">450</text>
<line x1="417.85" y1="349.5" x2="417.85" y2="350.9" stroke="#222" stroke-width="0.5" />
<text class="s" transform="translate(417.85,357.24) scale(0.75,1)" font-size="5.4" text-anchor="middle" fill="#111" stroke="#111" stroke-width="0.12">500</text>
<line x1="434.88" y1="349.5" x2="434.88" y2="350.9" stroke="#222" stroke-width="0.5" />
<text class="s" transform="translate(434.88,357.24) scale(0.75,1)" font-size="5.4" text-anchor="middle" fill="#111" stroke="#111" stroke-width="0.12">550</text>
<line x1="451.9" y1="349.5" x2="451.9" y2="350.9" stroke="#222" stroke-width="0.5" />
<text class="s" transform="translate(451.9,357.24) scale(0.75,1)" font-size="5.4" text-anchor="middle" fill="#111" stroke="#111" stroke-width="0.12">600</text>
<line x1="468.93" y1="349.5" x2="468.93" y2="350.9" stroke="#222" stroke-width="0.5" />
<text class="s" transform="translate(468.93,357.24) scale(0.75,1)" font-size="5.4" text-anchor="middle" fill="#111" stroke="#111" stroke-width="0.12">650</text>
<line x1="485.95" y1="349.5" x2="485.95" y2="350.9" stroke="#222" stroke-width="0.5" />
<text class="s" transform="translate(485.95,357.24) scale(0.75,1)" font-size="5.4" text-anchor="middle" fill="#111" stroke="#111" stroke-width="0.12">700</text>
<line x1="502.98" y1="349.5" x2="502.98" y2="350.9" stroke="#222" stroke-width="0.5" />
<text class="s" transform="translate(502.98,357.24) scale(0.75,1)" font-size="5.4" text-anchor="middle" fill="#111" stroke="#111" stroke-width="0.12">750</text>
<line x1="520" y1="349.5" x2="520" y2="350.9" stroke="#222" stroke-width="0.5" />
<text class="s" transform="translate(520,357.24) scale(0.75,1)" font-size="5.4" text-anchor="middle" fill="#111" stroke="#111" stroke-width="0.12">800</text>
<line x1="537.03" y1="349.5" x2="537.03" y2="350.9" stroke="#222" stroke-width="0.5" />
<text class="s" transform="translate(537.03,357.24) scale(0.75,1)" font-size="5.4" text-anchor="middle" fill="#111" stroke="#111" stroke-width="0.12">850</text>
<path d="M380.4 349.5v0.8M383.8 349.5v0.8M387.2 349.5v0.8M390.61 349.5v0.8M394.01 349.5v0.8M397.42 349.5v0.8M400.82 349.5v0.8M404.23 349.5v0.8M407.63 349.5v0.8M411.04 349.5v0.8M414.44 349.5v0.8M417.85 349.5v0.8M421.25 349.5v0.8M424.66 349.5v0.8M428.06 349.5v0.8M431.47 349.5v0.8M434.87 349.5v0.8M438.28 349.5v0.8M441.68 349.5v0.8M445.09 349.5v0.8M448.49 349.5v0.8M451.9 349.5v0.8M455.3 349.5v0.8M458.71 349.5v0.8M462.11 349.5v0.8M465.52 349.5v0.8M468.92 349.5v0.8M472.33 349.5v0.8M475.73 349.5v0.8M479.14 349.5v0.8M482.54 349.5v0.8M485.95 349.5v0.8M489.35 349.5v0.8M492.76 349.5v0.8M496.16 349.5v0.8M499.57 349.5v0.8M502.97 349.5v0.8M506.38 349.5v0.8M509.78 349.5v0.8M513.19 349.5v0.8M516.59 349.5v0.8M520 349.5v0.8M523.4 349.5v0.8M526.81 349.5v0.8M530.21 349.5v0.8M533.62 349.5v0.8M537.02 349.5v0.8" stroke="#333" stroke-width="0.35" fill="none"/>
<path d="M378.9 349.5v-0.3M382.25 349.5v-1M385.73 349.5v-1M387.7 349.5v-0.3M390.51 349.5v-1M392.14 349.5v-1M394.52 349.5v-1M396.78 349.5v-0.4M399.71 349.5v-1M401.37 349.5v-0.4M403.86 349.5v-1.3M407.12 349.5v-1.3M409.69 349.5v-1.3M411.68 349.5v-0.3M413.44 349.5v-1M415.53 349.5v-0.3M417.03 349.5v-0.8M419.98 349.5v-0.8M421.49 349.5v-0.5M424.12 349.5v-0.3M425.68 349.5v-1.8M428.04 349.5v-0.4M430.75 349.5v-0.8M433.97 349.5v-1M435.57 349.5v-0.6M438.23 349.5v-1M440.93 349.5v-0.4M443.13 349.5v-1.8M446.69 349.5v-0.3M447.93 349.5v-0.8M451.43 349.5v-0.8M453.52 349.5v-1M456.42 349.5v-0.8M458.89 349.5v-0.3M461.82 349.5v-0.5M465.15 349.5v-0.8M468.52 349.5v-0.6M469.79 349.5v-0.3M473.04 349.5v-0.5M476.39 349.5v-0.5M477.81 349.5v-0.5M479.82 349.5v-0.8M481.3 349.5v-0.8M483.76 349.5v-0.3M485.09 349.5v-1M486.45 349.5v-1.8M489.91 349.5v-1M491.18 349.5v-0.3M493.29 349.5v-0.5M495.19 349.5v-0.8M497.66 349.5v-0.8M499.25 349.5v-0.3M501 349.5v-1.3M504.02 349.5v-0.3M506.77 349.5v-0.4M509.89 349.5v-1.3M513.13 349.5v-0.4M516.11 349.5v-0.8M517.32 349.5v-0.3M520.08 349.5v-0.4M523.01 349.5v-0.8M526.41 349.5v-0.3M529.18 349.5v-0.6M531.56 349.5v-1.3M534.62 349.5v-1" stroke="#555" stroke-width="0.35" fill="none"/>
<text class="s" transform="translate(540,351.53) scale(0.8,1)" font-size="4.8" text-anchor="start" fill="#111" stroke="#111" stroke-width="0.12">m/z</text>
<text class="s" transform="translate(374.7,253.73) scale(0.8,1)" font-size="4.8" text-anchor="end" fill="#111" stroke="#111" stroke-width="0.12">100</text>
<text class="s" transform="translate(374.7,351.23) scale(0.8,1)" font-size="4.8" text-anchor="end" fill="#111" stroke="#111" stroke-width="0.12">0</text>
<text class="s" font-size="5" fill="#222" stroke="#222" stroke-width="0.1" text-anchor="middle" transform="translate(375.9,301.2) rotate(-90) scale(0.8,1)">%</text>
<line x1="385.5" y1="251.7" x2="385.5" y2="349.5" stroke="#999" stroke-width="0.8" />
<line x1="385.5" y1="251.6" x2="388" y2="247.4" stroke="#555" stroke-width="0.4" />
<line x1="385.5" y1="325.2" x2="385.5" y2="349.5" stroke="#222" stroke-width="0.7" />
<line x1="401.7" y1="322.4" x2="401.7" y2="349.5" stroke="#999" stroke-width="0.6" />
<line x1="408.4" y1="339.8" x2="408.4" y2="349.5" stroke="#444" stroke-width="0.6" />
<line x1="414" y1="347.2" x2="414" y2="349.5" stroke="#aaa" stroke-width="0.5" />
<line x1="433" y1="347.6" x2="433" y2="349.5" stroke="#bbb" stroke-width="0.5" />
<text class="s" transform="translate(392.2,322.6) scale(0.89,1)" font-size="5.0" text-anchor="start" fill="#222" stroke="#222" stroke-width="0.12">451.2686</text>
<polyline points="422.4,249 418.4,249 418.4,312.4 422.4,312.4" stroke="#555" stroke-width="1.0" fill="none" />
<polyline points="480.7,249 484.7,249 484.7,312.4 480.7,312.4" stroke="#555" stroke-width="1.0" fill="none" />
<line x1="480.4" y1="279" x2="488" y2="279" stroke="#222" stroke-width="0.8" />
<text class="r" x="488.6" y="280.19" font-size="2.4" text-anchor="start" fill="#666" stroke="#666" stroke-width="0.14">C<tspan dy="0.7" font-size="1.9">6</tspan><tspan dy="-0.7">H</tspan><tspan dy="0.7" font-size="1.9">9</tspan><tspan dy="-0.7">O</tspan><tspan dy="0.7" font-size="1.9">5</tspan></text>
<line x1="425.5" y1="282.55" x2="431.44" y2="286.02" stroke="#000" stroke-width="0.8" stroke-linecap="round"/>
<line x1="431.44" y1="286.02" x2="431.44" y2="292.98" stroke="#000" stroke-width="0.8" stroke-linecap="round"/>
<line x1="431.44" y1="292.98" x2="425.5" y2="296.45" stroke="#000" stroke-width="0.8" stroke-linecap="round"/>
<line x1="425.5" y1="296.45" x2="419.56" y2="292.98" stroke="#000" stroke-width="0.8" stroke-linecap="round"/>
<line x1="419.56" y1="292.98" x2="419.56" y2="286.02" stroke="#000" stroke-width="0.8" stroke-linecap="round"/>
<line x1="419.56" y1="286.02" x2="425.5" y2="282.55" stroke="#000" stroke-width="0.8" stroke-linecap="round"/>
<line x1="431.44" y1="286.02" x2="437.38" y2="282.55" stroke="#000" stroke-width="0.8" stroke-linecap="round"/>
<line x1="437.38" y1="282.55" x2="443.32" y2="286.02" stroke="#000" stroke-width="0.8" stroke-linecap="round"/>
<line x1="443.32" y1="286.02" x2="443.32" y2="292.98" stroke="#000" stroke-width="0.8" stroke-linecap="round"/>
<line x1="443.32" y1="292.98" x2="437.38" y2="296.45" stroke="#000" stroke-width="0.8" stroke-linecap="round"/>
<line x1="437.38" y1="296.45" x2="431.44" y2="292.98" stroke="#000" stroke-width="0.8" stroke-linecap="round"/>
<line x1="437.38" y1="282.55" x2="437.38" y2="275.6" stroke="#000" stroke-width="0.8" stroke-linecap="round"/>
<line x1="437.38" y1="275.6" x2="443.32" y2="272.12" stroke="#000" stroke-width="0.8" stroke-linecap="round"/>
<line x1="443.32" y1="272.12" x2="449.26" y2="275.6" stroke="#000" stroke-width="0.8" stroke-linecap="round"/>
<line x1="449.26" y1="275.6" x2="449.26" y2="282.55" stroke="#000" stroke-width="0.8" stroke-linecap="round"/>
<line x1="449.26" y1="282.55" x2="443.32" y2="286.02" stroke="#000" stroke-width="0.8" stroke-linecap="round"/>
<line x1="449.26" y1="275.6" x2="456.23" y2="272.47" stroke="#000" stroke-width="0.8" stroke-linecap="round"/>
<line x1="456.23" y1="272.47" x2="459.8" y2="278.52" stroke="#000" stroke-width="0.8" stroke-linecap="round"/>
<line x1="459.8" y1="278.52" x2="456.03" y2="283.59" stroke="#000" stroke-width="0.8" stroke-linecap="round"/>
<line x1="456.03" y1="283.59" x2="449.26" y2="282.55" stroke="#000" stroke-width="0.8" stroke-linecap="round"/>
<line x1="420.45" y1="287.42" x2="425.64" y2="284.36" stroke="#000" stroke-width="0.8" stroke-linecap="round"/>
<polygon points="431.44,286.02 431.13,277.96 437.38,282.55" fill="none" stroke="#000" stroke-width="1.14" stroke-linejoin="round"/>
<line x1="449.26" y1="274.77" x2="449.26" y2="268.65" stroke="#000" stroke-width="1.52" stroke-linecap="round"/>
<line x1="449.26" y1="284.08" x2="449.26" y2="288.67" stroke="#000" stroke-width="1.52" stroke-linecap="round"/>
<line x1="459.8" y1="278.52" x2="464.74" y2="278.94" stroke="#000" stroke-width="1.6720000000000002" stroke-linecap="round"/>
<text class="r" x="465.63" y="280.6" font-size="3.4525" text-anchor="start" fill="#222" >OH</text>
<line x1="425.5" y1="296.45" x2="422.41" y2="302.01" stroke="#000" stroke-width="0.8" stroke-linecap="round"/>
<line x1="425.5" y1="296.45" x2="428.59" y2="302.01" stroke="#000" stroke-width="0.8" stroke-linecap="round"/>
<line x1="437.38" y1="296.45" x2="437.38" y2="301.45" stroke="#000" stroke-width="1.52" stroke-linecap="round"/>
<line x1="456.23" y1="272.47" x2="461.58" y2="270.39" stroke="#000" stroke-width="0.8" stroke-linecap="round"/>
<line x1="461.58" y1="270.39" x2="457.67" y2="264.27" stroke="#000" stroke-width="0.8" stroke-linecap="round"/>
<line x1="457.67" y1="264.27" x2="461.58" y2="258.85" stroke="#000" stroke-width="0.8" stroke-linecap="round"/>
<line x1="461.58" y1="258.85" x2="468.31" y2="260.52" stroke="#000" stroke-width="0.8" stroke-linecap="round"/>
<line x1="468.31" y1="260.52" x2="468.03" y2="267.75" stroke="#000" stroke-width="0.8" stroke-linecap="round"/>
<line x1="468.03" y1="267.75" x2="461.58" y2="270.39" stroke="#000" stroke-width="0.8" stroke-linecap="round"/>
<line x1="461.58" y1="270.39" x2="463.64" y2="276.64" stroke="#000" stroke-width="1.52" stroke-linecap="round"/>
<text class="r" x="468.58" y="270.67" font-size="3.4525" text-anchor="start" fill="#222" >O</text>
<line x1="468.31" y1="260.52" x2="473.79" y2="256.7" stroke="#000" stroke-width="1.52" stroke-linecap="round"/>
<line x1="469.68" y1="250.79" x2="477.91" y2="261.91" stroke="#000" stroke-width="0.8800000000000001" stroke-linecap="round"/>
<line x1="473.79" y1="256.7" x2="477.77" y2="253.78" stroke="#000" stroke-width="0.8800000000000001" stroke-linecap="round"/>
<text class="r" x="478.46" y="254.47" font-size="3.4525" text-anchor="start" fill="#222" >OH</text>
<polyline points="463.96,309.55 459.08,302.6 447,305.04 442,302.6" stroke="#000" stroke-width="0.65" fill="none" stroke-linejoin="round"/>
<polyline points="442,302.6 444.81,309.31 456.64,306.87 463.96,309.55" stroke="#000" stroke-width="1.35" fill="none" stroke-linejoin="round" stroke-linecap="round"/>
<line x1="442" y1="302.6" x2="436" y2="304.2" stroke="#000" stroke-width="0.5" />
<text class="r" x="435.6" y="305.49" font-size="3.0" text-anchor="end" fill="#222" stroke="#222" stroke-width="0.08">O</text>
<polyline points="459.08,302.6 463.08,302.2 465.28,300" stroke="#000" stroke-width="0.5" fill="none" />
<text class="r" x="465.58" y="300.39" font-size="3.0" text-anchor="start" fill="#222" stroke="#222" stroke-width="0.08">OH</text>
<line x1="463.96" y1="309.55" x2="465.56" y2="307.95" stroke="#000" stroke-width="0.5" />
<text class="r" x="465.56" y="308.64" font-size="3.0" text-anchor="start" fill="#222" stroke="#222" stroke-width="0.08">OH</text>
<line x1="456.64" y1="306.87" x2="457.84" y2="309.07" stroke="#000" stroke-width="0.5" />
<text class="r" x="457.24" y="311.06" font-size="3.0" text-anchor="start" fill="#222" stroke="#222" stroke-width="0.08">OH</text>
<text class="r" x="444.41" y="310.1" font-size="3.0" text-anchor="end" fill="#222" stroke="#222" stroke-width="0.08">HO</text>
<polyline points="419.7,313 473.1,272.3 476.6,255" stroke="#111" stroke-width="0.8" fill="none" />
<line x1="391.2" y1="313" x2="419.9" y2="313" stroke="#3a3a3a" stroke-width="1.1" />
<polyline points="394.06,310.58 390.4,313 394.06,315.42" stroke="#222" stroke-width="0.9900000000000001" fill="none" stroke-linejoin="miter"/>
<text class="r" x="404.1" y="311.92" font-size="4.9" text-anchor="start" fill="#333" stroke="#333" stroke-width="0.14">−4H</text>
<text class="r" x="394.3" y="317.82" font-size="4.3" text-anchor="start" fill="#777" stroke="#777" stroke-width="0.14">m/z</text>
<text class="r" x="405.2" y="317.98" font-size="4.8" text-anchor="start" fill="#666" stroke="#666" stroke-width="0.14">405.2639</text>
</g>
</svg>
</body>
</html>
